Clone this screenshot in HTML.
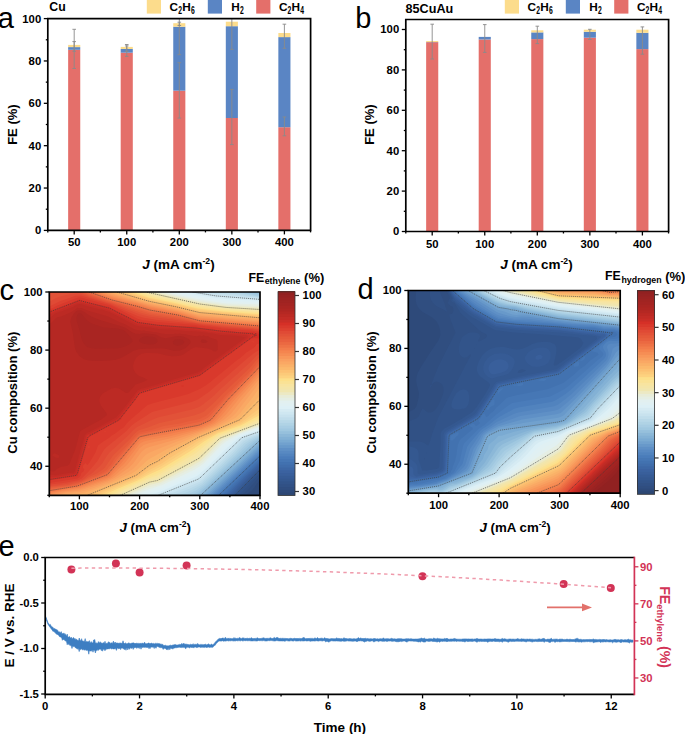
<!DOCTYPE html>
<html><head><meta charset="utf-8"><style>
html,body{margin:0;padding:0;background:#fff;overflow:hidden;}
svg{display:block;}

</style></head><body>
<svg width="685" height="734" viewBox="0 0 685 734" font-family='"Liberation Sans", sans-serif' font-weight="bold">
<rect width="685" height="734" fill="#fff"/>
<rect x="68.15" y="49.8" width="12.1" height="180.6" fill="#e46f6a"/>
<rect x="68.15" y="47.1" width="12.1" height="2.7" fill="#5a85c4"/>
<rect x="68.15" y="44.9" width="12.1" height="2.2" fill="#fcdc8c"/>
<line x1="74.2" y1="29.3" x2="74.2" y2="68.5" stroke="#8a8a8a" stroke-width="0.9"/>
<line x1="72.4" y1="29.3" x2="76" y2="29.3" stroke="#8a8a8a" stroke-width="0.9"/>
<line x1="72.4" y1="68.5" x2="76" y2="68.5" stroke="#8a8a8a" stroke-width="0.9"/>
<line x1="74.2" y1="41.6" x2="74.2" y2="51.3" stroke="#8a8a8a" stroke-width="0.9"/>
<line x1="72.4" y1="41.6" x2="76" y2="41.6" stroke="#8a8a8a" stroke-width="0.9"/>
<line x1="72.4" y1="51.3" x2="76" y2="51.3" stroke="#8a8a8a" stroke-width="0.9"/>
<rect x="120.7" y="52.7" width="12.1" height="177.7" fill="#e46f6a"/>
<rect x="120.7" y="49" width="12.1" height="3.7" fill="#5a85c4"/>
<rect x="120.7" y="46.9" width="12.1" height="2.1" fill="#fcdc8c"/>
<line x1="126.75" y1="44.5" x2="126.75" y2="56.4" stroke="#8a8a8a" stroke-width="0.9"/>
<line x1="124.95" y1="44.5" x2="128.55" y2="44.5" stroke="#8a8a8a" stroke-width="0.9"/>
<line x1="124.95" y1="56.4" x2="128.55" y2="56.4" stroke="#8a8a8a" stroke-width="0.9"/>
<line x1="126.75" y1="45.9" x2="126.75" y2="51.3" stroke="#8a8a8a" stroke-width="0.9"/>
<line x1="124.95" y1="45.9" x2="128.55" y2="45.9" stroke="#8a8a8a" stroke-width="0.9"/>
<line x1="124.95" y1="51.3" x2="128.55" y2="51.3" stroke="#8a8a8a" stroke-width="0.9"/>
<rect x="173.25" y="90.7" width="12.1" height="139.7" fill="#e46f6a"/>
<rect x="173.25" y="26.7" width="12.1" height="64" fill="#5a85c4"/>
<rect x="173.25" y="23.2" width="12.1" height="3.5" fill="#fcdc8c"/>
<line x1="179.3" y1="18.6" x2="179.3" y2="54.7" stroke="#8a8a8a" stroke-width="0.9"/>
<line x1="177.5" y1="54.7" x2="181.1" y2="54.7" stroke="#8a8a8a" stroke-width="0.9"/>
<line x1="179.3" y1="62.7" x2="179.3" y2="118.1" stroke="#8a8a8a" stroke-width="0.9"/>
<line x1="177.5" y1="62.7" x2="181.1" y2="62.7" stroke="#8a8a8a" stroke-width="0.9"/>
<line x1="177.5" y1="118.1" x2="181.1" y2="118.1" stroke="#8a8a8a" stroke-width="0.9"/>
<line x1="179.3" y1="22.2" x2="179.3" y2="25.5" stroke="#8a8a8a" stroke-width="0.9"/>
<line x1="177.5" y1="22.2" x2="181.1" y2="22.2" stroke="#8a8a8a" stroke-width="0.9"/>
<line x1="177.5" y1="25.5" x2="181.1" y2="25.5" stroke="#8a8a8a" stroke-width="0.9"/>
<rect x="225.8" y="118" width="12.1" height="112.4" fill="#e46f6a"/>
<rect x="225.8" y="26.2" width="12.1" height="91.8" fill="#5a85c4"/>
<rect x="225.8" y="21.7" width="12.1" height="4.5" fill="#fcdc8c"/>
<line x1="231.85" y1="18.6" x2="231.85" y2="49.3" stroke="#8a8a8a" stroke-width="0.9"/>
<line x1="230.05" y1="49.3" x2="233.65" y2="49.3" stroke="#8a8a8a" stroke-width="0.9"/>
<line x1="231.85" y1="89.4" x2="231.85" y2="144.6" stroke="#8a8a8a" stroke-width="0.9"/>
<line x1="230.05" y1="89.4" x2="233.65" y2="89.4" stroke="#8a8a8a" stroke-width="0.9"/>
<line x1="230.05" y1="144.6" x2="233.65" y2="144.6" stroke="#8a8a8a" stroke-width="0.9"/>
<rect x="278.35" y="127.2" width="12.1" height="103.2" fill="#e46f6a"/>
<rect x="278.35" y="37.1" width="12.1" height="90.1" fill="#5a85c4"/>
<rect x="278.35" y="33" width="12.1" height="4.1" fill="#fcdc8c"/>
<line x1="284.4" y1="24.2" x2="284.4" y2="48.3" stroke="#8a8a8a" stroke-width="0.9"/>
<line x1="282.6" y1="24.2" x2="286.2" y2="24.2" stroke="#8a8a8a" stroke-width="0.9"/>
<line x1="282.6" y1="48.3" x2="286.2" y2="48.3" stroke="#8a8a8a" stroke-width="0.9"/>
<line x1="284.4" y1="117" x2="284.4" y2="135.8" stroke="#8a8a8a" stroke-width="0.9"/>
<line x1="282.6" y1="117" x2="286.2" y2="117" stroke="#8a8a8a" stroke-width="0.9"/>
<line x1="282.6" y1="135.8" x2="286.2" y2="135.8" stroke="#8a8a8a" stroke-width="0.9"/>
<path d="M47.8 18.6H310.6V230.4H47.8Z" fill="none" stroke="#000" stroke-width="1.7"/>
<line x1="43.8" y1="230.4" x2="47.8" y2="230.4" stroke="#000" stroke-width="1.3"/>
<text x="41.2" y="234.3" font-size="11.3" text-anchor="end">0</text>
<line x1="45.8" y1="209.22" x2="47.8" y2="209.22" stroke="#000" stroke-width="1.3"/>
<line x1="43.8" y1="188.04" x2="47.8" y2="188.04" stroke="#000" stroke-width="1.3"/>
<text x="41.2" y="191.94" font-size="11.3" text-anchor="end">20</text>
<line x1="45.8" y1="166.86" x2="47.8" y2="166.86" stroke="#000" stroke-width="1.3"/>
<line x1="43.8" y1="145.68" x2="47.8" y2="145.68" stroke="#000" stroke-width="1.3"/>
<text x="41.2" y="149.58" font-size="11.3" text-anchor="end">40</text>
<line x1="45.8" y1="124.5" x2="47.8" y2="124.5" stroke="#000" stroke-width="1.3"/>
<line x1="43.8" y1="103.32" x2="47.8" y2="103.32" stroke="#000" stroke-width="1.3"/>
<text x="41.2" y="107.22" font-size="11.3" text-anchor="end">60</text>
<line x1="45.8" y1="82.14" x2="47.8" y2="82.14" stroke="#000" stroke-width="1.3"/>
<line x1="43.8" y1="60.96" x2="47.8" y2="60.96" stroke="#000" stroke-width="1.3"/>
<text x="41.2" y="64.86" font-size="11.3" text-anchor="end">80</text>
<line x1="45.8" y1="39.78" x2="47.8" y2="39.78" stroke="#000" stroke-width="1.3"/>
<line x1="43.8" y1="18.6" x2="47.8" y2="18.6" stroke="#000" stroke-width="1.3"/>
<text x="41.2" y="22.5" font-size="11.3" text-anchor="end">100</text>
<line x1="47.8" y1="230.4" x2="47.8" y2="232.4" stroke="#000" stroke-width="1.3"/>
<line x1="100.35" y1="230.4" x2="100.35" y2="232.4" stroke="#000" stroke-width="1.3"/>
<line x1="152.9" y1="230.4" x2="152.9" y2="232.4" stroke="#000" stroke-width="1.3"/>
<line x1="205.45" y1="230.4" x2="205.45" y2="232.4" stroke="#000" stroke-width="1.3"/>
<line x1="258" y1="230.4" x2="258" y2="232.4" stroke="#000" stroke-width="1.3"/>
<line x1="310.55" y1="230.4" x2="310.55" y2="232.4" stroke="#000" stroke-width="1.3"/>
<line x1="74.2" y1="230.4" x2="74.2" y2="234.4" stroke="#000" stroke-width="1.3"/>
<text x="74.2" y="246.4" font-size="11.3" text-anchor="middle">50</text>
<line x1="126.75" y1="230.4" x2="126.75" y2="234.4" stroke="#000" stroke-width="1.3"/>
<text x="126.75" y="246.4" font-size="11.3" text-anchor="middle">100</text>
<line x1="179.3" y1="230.4" x2="179.3" y2="234.4" stroke="#000" stroke-width="1.3"/>
<text x="179.3" y="246.4" font-size="11.3" text-anchor="middle">200</text>
<line x1="231.85" y1="230.4" x2="231.85" y2="234.4" stroke="#000" stroke-width="1.3"/>
<text x="231.85" y="246.4" font-size="11.3" text-anchor="middle">300</text>
<line x1="284.4" y1="230.4" x2="284.4" y2="234.4" stroke="#000" stroke-width="1.3"/>
<text x="284.4" y="246.4" font-size="11.3" text-anchor="middle">400</text>
<text x="16.8" y="124.6" font-size="13" text-anchor="middle" transform="rotate(-90 16.8 124.6)">FE (%)</text>
<text x="142.2" y="269.2" font-size="13.5"><tspan font-style="italic">J</tspan> (mA cm<tspan font-size="8.64" dy="-4.86">-2</tspan><tspan dy="4.86">)</tspan></text>
<text x="49.3" y="10.8" font-size="12.3">Cu</text>
<text x="-2.2" y="28.2" font-size="29" font-weight="normal">a</text>
<rect x="146.8" y="-2" width="14.2" height="15.6" fill="#fcdc8c"/>
<rect x="207.8" y="-2" width="14.2" height="15.6" fill="#5a85c4"/>
<rect x="256.2" y="-2" width="14.2" height="15.6" fill="#e46f6a"/>
<text x="169.6" y="10.9" font-size="11.8">C</text>
<text transform="translate(178.32 14.2) scale(0.68 1)" font-size="10">2</text>
<text x="182.2" y="10.9" font-size="11.8">H</text>
<text transform="translate(190.92 14.2) scale(0.68 1)" font-size="10">6</text>
<text x="231.2" y="10.9" font-size="11.8">H</text>
<text transform="translate(239.92 14.2) scale(0.68 1)" font-size="10">2</text>
<text x="278.9" y="10.9" font-size="11.8">C</text>
<text transform="translate(287.62 14.2) scale(0.68 1)" font-size="10">2</text>
<text x="291.5" y="10.9" font-size="11.8">H</text>
<text transform="translate(300.22 14.2) scale(0.68 1)" font-size="10">4</text>
<rect x="426.15" y="42.2" width="12.1" height="189.3" fill="#e46f6a"/>
<rect x="426.15" y="42" width="12.1" height="0.2" fill="#5a85c4"/>
<rect x="426.15" y="41" width="12.1" height="1" fill="#fcdc8c"/>
<line x1="432.2" y1="24.2" x2="432.2" y2="59" stroke="#8a8a8a" stroke-width="0.9"/>
<line x1="430.4" y1="24.2" x2="434" y2="24.2" stroke="#8a8a8a" stroke-width="0.9"/>
<line x1="430.4" y1="59" x2="434" y2="59" stroke="#8a8a8a" stroke-width="0.9"/>
<rect x="478.7" y="39.5" width="12.1" height="192" fill="#e46f6a"/>
<rect x="478.7" y="36.9" width="12.1" height="2.6" fill="#5a85c4"/>
<line x1="484.75" y1="24.6" x2="484.75" y2="52.4" stroke="#8a8a8a" stroke-width="0.9"/>
<line x1="482.95" y1="24.6" x2="486.55" y2="24.6" stroke="#8a8a8a" stroke-width="0.9"/>
<line x1="482.95" y1="52.4" x2="486.55" y2="52.4" stroke="#8a8a8a" stroke-width="0.9"/>
<rect x="531.25" y="39.1" width="12.1" height="192.4" fill="#e46f6a"/>
<rect x="531.25" y="32.4" width="12.1" height="6.7" fill="#5a85c4"/>
<rect x="531.25" y="30.3" width="12.1" height="2.1" fill="#fcdc8c"/>
<line x1="537.3" y1="26.2" x2="537.3" y2="43.6" stroke="#8a8a8a" stroke-width="0.9"/>
<line x1="535.5" y1="26.2" x2="539.1" y2="26.2" stroke="#8a8a8a" stroke-width="0.9"/>
<line x1="535.5" y1="43.6" x2="539.1" y2="43.6" stroke="#8a8a8a" stroke-width="0.9"/>
<rect x="583.8" y="37.7" width="12.1" height="193.8" fill="#e46f6a"/>
<rect x="583.8" y="31.8" width="12.1" height="5.9" fill="#5a85c4"/>
<rect x="583.8" y="29.7" width="12.1" height="2.1" fill="#fcdc8c"/>
<line x1="589.85" y1="29.3" x2="589.85" y2="39.5" stroke="#8a8a8a" stroke-width="0.9"/>
<line x1="588.05" y1="29.3" x2="591.65" y2="29.3" stroke="#8a8a8a" stroke-width="0.9"/>
<line x1="588.05" y1="39.5" x2="591.65" y2="39.5" stroke="#8a8a8a" stroke-width="0.9"/>
<rect x="636.35" y="49.1" width="12.1" height="182.4" fill="#e46f6a"/>
<rect x="636.35" y="32.8" width="12.1" height="16.3" fill="#5a85c4"/>
<rect x="636.35" y="29.7" width="12.1" height="3.1" fill="#fcdc8c"/>
<line x1="642.4" y1="26.9" x2="642.4" y2="54.2" stroke="#8a8a8a" stroke-width="0.9"/>
<line x1="640.6" y1="26.9" x2="644.2" y2="26.9" stroke="#8a8a8a" stroke-width="0.9"/>
<line x1="640.6" y1="54.2" x2="644.2" y2="54.2" stroke="#8a8a8a" stroke-width="0.9"/>
<path d="M405.8 19.5H668.6V231.5H405.8Z" fill="none" stroke="#000" stroke-width="1.7"/>
<line x1="401.8" y1="231.5" x2="405.8" y2="231.5" stroke="#000" stroke-width="1.3"/>
<text x="399.2" y="235.4" font-size="11.3" text-anchor="end">0</text>
<line x1="403.8" y1="211.3" x2="405.8" y2="211.3" stroke="#000" stroke-width="1.3"/>
<line x1="401.8" y1="191.1" x2="405.8" y2="191.1" stroke="#000" stroke-width="1.3"/>
<text x="399.2" y="195" font-size="11.3" text-anchor="end">20</text>
<line x1="403.8" y1="170.9" x2="405.8" y2="170.9" stroke="#000" stroke-width="1.3"/>
<line x1="401.8" y1="150.7" x2="405.8" y2="150.7" stroke="#000" stroke-width="1.3"/>
<text x="399.2" y="154.6" font-size="11.3" text-anchor="end">40</text>
<line x1="403.8" y1="130.5" x2="405.8" y2="130.5" stroke="#000" stroke-width="1.3"/>
<line x1="401.8" y1="110.3" x2="405.8" y2="110.3" stroke="#000" stroke-width="1.3"/>
<text x="399.2" y="114.2" font-size="11.3" text-anchor="end">60</text>
<line x1="403.8" y1="90.1" x2="405.8" y2="90.1" stroke="#000" stroke-width="1.3"/>
<line x1="401.8" y1="69.9" x2="405.8" y2="69.9" stroke="#000" stroke-width="1.3"/>
<text x="399.2" y="73.8" font-size="11.3" text-anchor="end">80</text>
<line x1="403.8" y1="49.7" x2="405.8" y2="49.7" stroke="#000" stroke-width="1.3"/>
<line x1="401.8" y1="29.5" x2="405.8" y2="29.5" stroke="#000" stroke-width="1.3"/>
<text x="399.2" y="33.4" font-size="11.3" text-anchor="end">100</text>
<line x1="405.8" y1="231.5" x2="405.8" y2="233.5" stroke="#000" stroke-width="1.3"/>
<line x1="458.35" y1="231.5" x2="458.35" y2="233.5" stroke="#000" stroke-width="1.3"/>
<line x1="510.9" y1="231.5" x2="510.9" y2="233.5" stroke="#000" stroke-width="1.3"/>
<line x1="563.45" y1="231.5" x2="563.45" y2="233.5" stroke="#000" stroke-width="1.3"/>
<line x1="616" y1="231.5" x2="616" y2="233.5" stroke="#000" stroke-width="1.3"/>
<line x1="668.55" y1="231.5" x2="668.55" y2="233.5" stroke="#000" stroke-width="1.3"/>
<line x1="432.2" y1="231.5" x2="432.2" y2="235.5" stroke="#000" stroke-width="1.3"/>
<text x="432.2" y="247.5" font-size="11.3" text-anchor="middle">50</text>
<line x1="484.75" y1="231.5" x2="484.75" y2="235.5" stroke="#000" stroke-width="1.3"/>
<text x="484.75" y="247.5" font-size="11.3" text-anchor="middle">100</text>
<line x1="537.3" y1="231.5" x2="537.3" y2="235.5" stroke="#000" stroke-width="1.3"/>
<text x="537.3" y="247.5" font-size="11.3" text-anchor="middle">200</text>
<line x1="589.85" y1="231.5" x2="589.85" y2="235.5" stroke="#000" stroke-width="1.3"/>
<text x="589.85" y="247.5" font-size="11.3" text-anchor="middle">300</text>
<line x1="642.4" y1="231.5" x2="642.4" y2="235.5" stroke="#000" stroke-width="1.3"/>
<text x="642.4" y="247.5" font-size="11.3" text-anchor="middle">400</text>
<text x="373.9" y="124.6" font-size="13" text-anchor="middle" transform="rotate(-90 373.9 124.6)">FE (%)</text>
<text x="500.2" y="269.2" font-size="13.5"><tspan font-style="italic">J</tspan> (mA cm<tspan font-size="8.64" dy="-4.86">-2</tspan><tspan dy="4.86">)</tspan></text>
<text x="405.6" y="12.7" font-size="12.6">85CuAu</text>
<text x="355.2" y="28.2" font-size="29" font-weight="normal">b</text>
<rect x="504.8" y="-2" width="14.2" height="15.6" fill="#fcdc8c"/>
<rect x="565.8" y="-2" width="14.2" height="15.6" fill="#5a85c4"/>
<rect x="614.2" y="-2" width="14.2" height="15.6" fill="#e46f6a"/>
<text x="527.6" y="10.9" font-size="11.8">C</text>
<text transform="translate(536.32 14.2) scale(0.68 1)" font-size="10">2</text>
<text x="540.2" y="10.9" font-size="11.8">H</text>
<text transform="translate(548.92 14.2) scale(0.68 1)" font-size="10">6</text>
<text x="589.2" y="10.9" font-size="11.8">H</text>
<text transform="translate(597.92 14.2) scale(0.68 1)" font-size="10">2</text>
<text x="636.9" y="10.9" font-size="11.8">C</text>
<text transform="translate(645.62 14.2) scale(0.68 1)" font-size="10">2</text>
<text x="649.5" y="10.9" font-size="11.8">H</text>
<text transform="translate(658.22 14.2) scale(0.68 1)" font-size="10">4</text>
<path d="M45.6 616.5 46.2 617.7 46.8 619.5 47.4 621.0 48.0 622.9 48.6 623.4 49.2 624.3 49.8 624.9 50.4 624.4 51.0 625.7 51.6 626.4 52.2 627.0 52.8 627.2 53.4 627.9 54.0 628.7 54.6 628.6 55.2 629.3 55.8 628.9 56.4 630.1 57.0 629.6 57.6 630.2 58.2 631.6 58.8 632.0 59.4 631.7 60.0 632.5 60.6 633.0 61.2 631.6 61.8 633.5 62.4 633.7 63.0 633.6 63.6 632.9 64.2 635.1 64.8 633.4 65.4 634.2 66.0 635.3 66.6 635.9 67.2 634.1 67.8 636.6 68.4 637.3 69.0 636.8 69.6 636.6 70.2 638.0 70.8 637.9 71.4 637.2 72.0 638.5 72.6 639.0 73.2 637.6 73.8 637.8 74.4 639.3 75.0 638.4 75.6 639.9 76.2 638.9 76.8 639.9 77.4 639.9 78.0 640.6 78.6 640.7 79.2 638.0 79.8 639.4 80.4 640.5 81.0 641.0 81.6 638.7 82.2 641.0 82.8 641.0 83.4 640.9 84.0 642.0 84.6 640.8 85.2 638.6 85.8 641.9 86.4 641.4 87.0 641.4 87.6 641.8 88.2 641.5 88.8 641.9 89.4 640.6 90.0 643.0 90.6 642.8 91.2 641.6 91.8 642.5 92.4 642.9 93.0 642.9 93.6 640.0 94.2 639.9 94.8 639.5 95.4 643.3 96.0 642.7 96.6 643.2 97.2 643.3 97.8 643.3 98.4 641.6 99.0 642.8 99.6 643.1 100.2 641.7 100.8 643.1 101.4 642.9 102.0 643.2 102.6 643.3 103.2 642.5 103.8 643.1 104.4 643.2 105.0 641.3 105.6 643.5 106.2 643.5 106.8 643.3 107.4 643.5 108.0 642.5 108.6 641.7 109.2 643.1 109.8 642.3 110.4 643.7 111.0 643.0 111.6 642.9 112.2 642.6 112.8 643.7 113.4 641.1 114.0 643.2 114.6 643.1 115.2 642.0 115.8 643.6 116.4 643.0 117.0 642.8 117.6 643.0 118.2 643.6 118.8 642.9 119.4 643.2 120.0 643.0 120.6 642.9 121.2 643.6 121.8 643.0 122.4 643.2 123.0 640.8 123.6 642.8 124.2 643.5 124.8 643.5 125.4 642.8 126.0 643.4 126.6 643.7 127.2 643.5 127.8 643.7 128.4 642.8 129.0 643.3 129.6 643.3 130.2 643.6 130.8 643.5 131.4 643.3 132.0 643.1 132.6 643.0 133.2 643.0 133.8 642.8 134.4 643.4 135.0 643.1 135.6 643.6 136.2 643.3 136.8 643.3 137.4 643.4 138.0 643.2 138.6 643.4 139.2 643.7 139.8 643.3 140.4 643.5 141.0 642.9 141.6 643.7 142.2 643.3 142.8 643.1 143.4 643.7 144.0 643.0 144.6 642.2 145.2 643.6 145.8 643.7 146.4 643.7 147.0 643.5 147.6 643.6 148.2 643.1 148.8 643.1 149.4 643.4 150.0 643.3 150.6 643.6 151.2 643.2 151.8 643.1 152.4 643.7 153.0 643.5 153.6 643.4 154.2 643.7 154.8 643.8 155.4 643.3 156.0 643.7 156.6 643.4 157.2 643.7 157.8 643.2 158.4 643.6 159.0 643.8 159.6 643.7 160.2 643.7 160.8 644.3 161.4 644.2 162.0 644.4 162.6 644.3 163.2 645.0 163.8 645.5 164.4 645.5 165.0 645.2 165.6 645.3 166.2 645.7 166.8 645.8 167.4 645.9 168.0 645.4 168.6 645.9 169.2 645.7 169.8 645.3 170.4 645.2 171.0 645.2 171.6 645.5 172.2 645.3 172.8 645.0 173.4 645.1 174.0 644.6 174.6 644.7 175.2 644.7 175.8 644.6 176.4 645.0 177.0 644.9 177.6 645.0 178.2 644.7 178.8 644.8 179.4 644.4 180.0 644.5 180.6 644.6 181.2 644.2 181.8 643.4 182.4 644.5 183.0 643.6 183.6 643.5 184.2 644.5 184.8 643.6 185.4 644.3 186.0 644.2 186.6 644.2 187.2 644.3 187.8 644.5 188.4 644.6 189.0 644.7 189.6 644.8 190.2 644.3 190.8 644.4 191.4 644.5 192.0 644.8 192.6 644.3 193.2 643.7 193.8 644.7 194.4 644.4 195.0 644.5 195.6 644.3 196.2 644.4 196.8 644.5 197.4 643.4 198.0 644.4 198.6 644.3 199.2 644.7 199.8 644.8 200.4 644.4 201.0 644.8 201.6 644.4 202.2 644.8 202.8 644.4 203.4 644.7 204.0 644.5 204.6 644.5 205.2 644.0 205.8 644.6 206.4 644.9 207.0 644.3 207.6 644.8 208.2 643.8 208.8 644.2 209.4 644.5 210.0 645.0 210.6 644.7 211.2 644.2 211.8 644.1 212.4 645.0 213.0 644.9 213.6 643.9 214.2 643.6 214.8 643.0 215.4 641.9 216.0 641.4 216.6 640.7 217.2 640.2 217.8 639.8 218.4 639.0 219.0 638.5 219.6 638.4 220.2 638.5 220.8 638.6 221.4 638.6 222.0 638.1 222.6 638.1 223.2 638.0 223.8 638.5 224.4 638.8 225.0 637.6 225.6 637.5 226.2 638.7 226.8 638.4 227.4 638.7 228.0 637.9 228.6 638.6 229.2 638.2 229.8 638.7 230.4 638.5 231.0 638.3 231.6 638.7 232.2 638.7 232.8 638.6 233.4 638.5 234.0 637.5 234.6 638.6 235.2 638.3 235.8 638.2 236.4 638.5 237.0 638.4 237.6 638.3 238.2 638.4 238.8 638.3 239.4 637.4 240.0 638.1 240.6 638.2 241.2 638.4 241.8 638.4 242.4 637.9 243.0 638.1 243.6 637.9 244.2 638.4 244.8 638.2 245.4 638.5 246.0 638.1 246.6 638.4 247.2 638.2 247.8 638.3 248.4 638.5 249.0 638.3 249.6 638.3 250.2 638.5 251.4 637.7 252.6 638.5 253.8 638.6 255.0 638.4 256.2 638.4 257.4 637.8 258.6 638.5 259.8 638.6 261.0 638.5 262.2 638.2 263.4 637.8 264.6 638.2 265.8 638.5 267.0 638.3 268.2 638.4 269.4 638.2 270.6 637.8 271.8 638.5 273.0 638.5 274.2 637.4 275.4 638.2 276.6 637.6 277.8 637.6 279.0 638.6 280.2 638.3 281.4 638.4 282.6 638.3 283.8 638.4 285.0 638.4 286.2 638.5 287.4 638.5 288.6 638.7 289.8 638.4 291.0 638.3 292.2 638.7 293.4 638.6 294.6 638.3 295.8 638.6 297.0 638.5 298.2 638.6 299.4 638.4 300.6 638.5 301.8 638.6 303.0 637.7 304.2 637.5 305.4 638.8 306.6 638.5 307.8 638.5 309.0 638.5 310.2 638.4 311.4 638.4 312.6 638.4 313.8 638.7 315.0 637.8 316.2 638.8 317.4 637.6 318.6 638.5 319.8 638.6 321.0 638.2 322.2 638.2 323.4 638.8 324.6 637.7 325.8 638.5 327.0 638.5 328.2 638.7 329.4 638.9 330.6 638.7 331.8 638.6 333.0 638.7 334.2 638.7 335.4 638.7 336.6 637.9 337.8 638.5 339.0 638.4 340.2 638.7 341.4 638.6 342.6 638.9 343.8 637.7 345.0 638.5 346.2 638.5 347.4 638.8 348.6 638.8 349.8 638.6 351.0 638.8 352.2 638.9 353.4 638.7 354.6 638.7 355.8 638.9 357.0 638.8 358.2 637.6 359.4 638.6 360.6 638.0 361.8 638.5 363.0 638.6 364.2 638.6 365.4 638.3 366.6 638.7 367.8 638.5 369.0 638.9 370.2 638.7 371.4 638.8 372.6 638.9 373.8 638.6 375.0 638.6 376.2 639.0 377.4 638.7 378.6 639.0 379.8 638.8 381.0 638.7 382.2 639.0 383.4 637.8 384.6 639.0 385.8 638.8 387.0 638.7 388.2 638.7 389.4 638.9 390.6 638.7 391.8 638.3 393.0 639.0 394.2 638.8 395.4 638.9 396.6 639.0 397.8 638.7 399.0 638.7 400.2 638.7 401.4 638.7 402.6 639.0 403.8 639.1 405.0 639.0 406.2 638.7 407.4 638.8 408.6 638.7 409.8 638.9 411.0 638.7 412.2 639.0 413.4 639.1 414.6 639.1 415.8 639.0 417.0 639.1 418.2 638.9 419.4 638.7 420.6 638.4 421.8 638.1 423.0 638.9 424.2 638.0 425.4 638.9 426.6 639.0 427.8 639.1 429.0 638.8 430.2 638.8 431.4 638.8 432.6 639.0 433.8 638.0 435.0 638.7 436.2 638.9 437.4 638.3 438.6 638.7 439.8 638.8 441.0 638.9 442.2 638.9 443.4 639.0 444.6 638.4 445.8 638.8 447.0 638.3 448.2 639.1 449.4 639.2 450.6 639.0 451.8 639.0 453.0 639.1 454.2 638.4 455.4 638.8 456.6 639.1 457.8 639.2 459.0 639.2 460.2 639.2 461.4 639.2 462.6 639.0 463.8 638.9 465.0 638.9 466.2 638.9 467.4 639.0 468.6 638.9 469.8 639.1 471.0 639.1 472.2 638.9 473.4 639.2 474.6 639.0 475.8 638.9 477.0 638.4 478.2 639.0 479.4 639.1 480.6 639.0 481.8 639.1 483.0 639.3 484.2 639.0 485.4 639.1 486.6 639.1 487.8 638.9 489.0 638.9 490.2 638.9 491.4 639.1 492.6 639.0 493.8 639.0 495.0 638.6 496.2 639.0 497.4 639.1 498.6 639.1 499.8 639.3 501.0 639.3 502.2 638.4 503.4 639.0 504.6 638.7 505.8 639.1 507.0 639.4 508.2 639.2 509.4 639.0 510.6 639.0 511.8 639.2 513.0 639.1 514.2 639.2 515.4 639.2 516.6 639.1 517.8 638.6 519.0 639.2 520.2 639.3 521.4 638.8 522.6 639.0 523.8 639.0 525.0 639.3 526.2 639.2 527.4 639.1 528.6 639.3 529.8 639.0 531.0 639.3 532.2 639.2 533.4 639.4 534.6 639.4 535.8 639.3 537.0 639.4 538.2 639.0 539.4 638.8 540.6 639.2 541.8 639.1 543.0 638.5 544.2 638.4 545.4 639.4 546.6 639.5 547.8 639.1 549.0 639.3 550.2 639.1 551.4 638.3 552.6 639.5 553.8 639.2 555.0 639.2 556.2 639.1 557.4 639.2 558.6 639.5 559.8 639.1 561.0 639.2 562.2 639.1 563.4 639.5 564.6 639.4 565.8 639.5 567.0 639.1 568.2 639.5 569.4 639.3 570.6 639.3 571.8 639.6 573.0 639.6 574.2 639.4 575.4 638.9 576.6 638.4 577.8 638.4 579.0 639.5 580.2 639.3 581.4 639.4 582.6 639.7 583.8 639.6 585.0 639.7 586.2 639.6 587.4 639.6 588.6 639.6 589.8 639.4 591.0 639.6 592.2 639.5 593.4 639.0 594.6 639.6 595.8 639.4 597.0 639.7 598.2 639.7 599.4 639.4 600.6 639.6 601.8 639.7 603.0 639.5 604.2 639.5 605.4 639.8 606.6 639.6 607.8 639.9 609.0 639.9 610.2 639.7 611.4 639.9 612.6 639.9 613.8 639.7 615.0 639.3 616.2 639.7 617.4 639.8 618.6 639.7 619.8 640.0 621.0 639.6 622.2 639.7 623.4 640.0 624.6 639.7 625.8 639.7 627.0 640.0 628.2 639.1 629.4 639.8 630.6 639.8 631.8 640.1 633.0 640.0 633.0 642.1 631.8 642.3 630.6 641.9 629.4 643.0 628.2 642.2 627.0 642.1 625.8 642.1 624.6 642.0 623.4 642.1 622.2 641.8 621.0 642.7 619.8 642.1 618.6 641.8 617.4 642.1 616.2 642.3 615.0 642.0 613.8 641.8 612.6 642.8 611.4 641.8 610.2 641.9 609.0 642.0 607.8 641.7 606.6 641.8 605.4 641.9 604.2 641.7 603.0 642.1 601.8 641.8 600.6 642.4 599.4 641.7 598.2 641.8 597.0 641.9 595.8 642.0 594.6 642.2 593.4 642.8 592.2 641.6 591.0 641.8 589.8 641.8 588.6 641.5 587.4 641.7 586.2 641.6 585.0 641.8 583.8 641.8 582.6 641.8 581.4 642.2 580.2 641.7 579.0 642.1 577.8 641.7 576.6 641.8 575.4 642.0 574.2 641.4 573.0 641.5 571.8 641.5 570.6 641.6 569.4 641.7 568.2 641.6 567.0 641.5 565.8 641.4 564.6 641.4 563.4 641.5 562.2 641.6 561.0 641.7 559.8 641.9 558.6 641.6 557.4 641.7 556.2 641.5 555.0 642.4 553.8 641.3 552.6 641.6 551.4 641.5 550.2 642.4 549.0 642.3 547.8 641.5 546.6 641.4 545.4 641.3 544.2 642.3 543.0 641.3 541.8 641.4 540.6 641.4 539.4 641.4 538.2 641.6 537.0 641.6 535.8 641.3 534.6 641.5 533.4 641.6 532.2 642.0 531.0 641.6 529.8 641.3 528.6 641.3 527.4 641.3 526.2 641.9 525.0 641.6 523.8 641.3 522.6 641.3 521.4 641.5 520.2 641.2 519.0 641.3 517.8 641.2 516.6 641.2 515.4 641.3 514.2 641.5 513.0 641.3 511.8 641.6 510.6 641.3 509.4 641.6 508.2 642.2 507.0 641.6 505.8 641.3 504.6 641.3 503.4 641.3 502.2 642.3 501.0 641.2 499.8 641.8 498.6 641.6 497.4 641.4 496.2 641.4 495.0 641.5 493.8 641.1 492.6 641.4 491.4 641.4 490.2 641.3 489.0 641.4 487.8 642.3 486.6 641.5 485.4 641.4 484.2 641.5 483.0 641.3 481.8 641.5 480.6 641.3 479.4 641.6 478.2 641.3 477.0 642.3 475.8 641.5 474.6 641.1 473.4 641.2 472.2 641.5 471.0 641.3 469.8 641.3 468.6 641.5 467.4 641.5 466.2 641.1 465.0 642.1 463.8 641.4 462.6 641.5 461.4 641.2 460.2 641.2 459.0 641.2 457.8 641.1 456.6 641.5 455.4 641.1 454.2 641.3 453.0 641.1 451.8 641.3 450.6 641.3 449.4 641.3 448.2 641.2 447.0 641.7 445.8 641.3 444.6 641.3 443.4 641.2 442.2 641.4 441.0 641.1 439.8 642.2 438.6 641.4 437.4 641.9 436.2 641.8 435.0 641.4 433.8 641.4 432.6 641.4 431.4 641.1 430.2 641.2 429.0 641.4 427.8 641.2 426.6 641.0 425.4 641.9 424.2 642.1 423.0 641.9 421.8 641.1 420.6 642.1 419.4 641.7 418.2 641.9 417.0 641.4 415.8 641.3 414.6 641.3 413.4 641.2 412.2 641.0 411.0 641.1 409.8 640.9 408.6 641.1 407.4 641.8 406.2 641.9 405.0 641.0 403.8 641.0 402.6 641.3 401.4 641.6 400.2 641.2 399.0 641.7 397.8 641.7 396.6 641.7 395.4 641.4 394.2 641.0 393.0 641.3 391.8 641.3 390.6 641.0 389.4 641.1 388.2 641.1 387.0 641.5 385.8 641.0 384.6 641.3 383.4 641.3 382.2 641.3 381.0 640.9 379.8 640.9 378.6 641.6 377.4 641.0 376.2 640.9 375.0 641.2 373.8 642.1 372.6 640.8 371.4 640.9 370.2 641.3 369.0 641.3 367.8 640.8 366.6 641.2 365.4 641.5 364.2 642.1 363.0 641.0 361.8 641.0 360.6 640.8 359.4 640.9 358.2 641.0 357.0 641.7 355.8 641.1 354.6 641.1 353.4 641.2 352.2 641.2 351.0 641.1 349.8 641.1 348.6 641.1 347.4 640.8 346.2 641.1 345.0 641.2 343.8 641.2 342.6 640.9 341.4 641.2 340.2 641.2 339.0 641.1 337.8 641.1 336.6 640.9 335.4 641.1 334.2 641.0 333.0 641.0 331.8 640.7 330.6 641.1 329.4 641.8 328.2 642.0 327.0 641.0 325.8 641.9 324.6 640.8 323.4 640.7 322.2 641.1 321.0 640.7 319.8 640.7 318.6 641.1 317.4 640.9 316.2 640.7 315.0 641.1 313.8 640.9 312.6 641.0 311.4 641.1 310.2 641.3 309.0 640.7 307.8 640.9 306.6 641.0 305.4 640.7 304.2 640.9 303.0 641.0 301.8 640.8 300.6 641.1 299.4 640.8 298.2 640.9 297.0 641.0 295.8 641.0 294.6 640.6 293.4 641.1 292.2 640.9 291.0 640.6 289.8 641.0 288.6 641.0 287.4 640.8 286.2 640.6 285.0 641.3 283.8 640.9 282.6 641.0 281.4 640.9 280.2 640.9 279.0 640.9 277.8 640.7 276.6 640.6 275.4 640.9 274.2 641.0 273.0 640.8 271.8 640.6 270.6 640.6 269.4 640.7 268.2 640.6 267.0 640.9 265.8 641.0 264.6 640.8 263.4 640.6 262.2 640.8 261.0 640.6 259.8 640.7 258.6 640.5 257.4 640.9 256.2 641.0 255.0 640.8 253.8 640.8 252.6 640.9 251.4 640.9 250.2 640.8 249.6 640.7 249.0 640.6 248.4 640.7 247.8 640.7 247.2 640.8 246.6 640.6 246.0 640.7 245.4 640.7 244.8 640.7 244.2 640.5 243.6 640.8 243.0 640.8 242.4 640.9 241.8 640.5 241.2 640.6 240.6 640.9 240.0 640.6 239.4 640.7 238.8 640.8 238.2 640.6 237.6 640.8 237.0 640.9 236.4 640.6 235.8 641.1 235.2 640.7 234.6 640.9 234.0 640.8 233.4 641.0 232.8 640.8 232.2 640.8 231.6 640.7 231.0 640.6 230.4 640.9 229.8 640.8 229.2 640.8 228.6 641.0 228.0 640.8 227.4 640.7 226.8 641.0 226.2 640.7 225.6 641.1 225.0 641.1 224.4 641.0 223.8 641.0 223.2 641.3 222.6 640.7 222.0 641.0 221.4 641.1 220.8 641.1 220.2 641.1 219.6 640.9 219.0 641.2 218.4 641.3 217.8 642.1 217.2 642.6 216.6 643.3 216.0 643.5 215.4 645.1 214.8 645.3 214.2 646.0 213.6 646.3 213.0 647.3 212.4 647.2 211.8 647.1 211.2 647.4 210.6 647.2 210.0 647.3 209.4 647.4 208.8 647.0 208.2 647.2 207.6 647.3 207.0 647.2 206.4 647.8 205.8 647.2 205.2 647.0 204.6 647.5 204.0 647.0 203.4 647.4 202.8 647.1 202.2 647.5 201.6 647.3 201.0 647.3 200.4 647.5 199.8 647.1 199.2 647.1 198.6 647.1 198.0 647.1 197.4 647.5 196.8 647.5 196.2 647.5 195.6 647.1 195.0 647.0 194.4 647.0 193.8 648.1 193.2 647.1 192.6 647.5 192.0 647.4 191.4 647.4 190.8 647.2 190.2 647.1 189.6 648.2 189.0 647.2 188.4 647.3 187.8 647.5 187.2 647.1 186.6 647.3 186.0 648.6 185.4 648.6 184.8 647.6 184.2 647.3 183.6 647.6 183.0 647.1 182.4 647.5 181.8 647.2 181.2 647.7 180.6 647.4 180.0 647.2 179.4 647.2 178.8 647.2 178.2 647.4 177.6 647.5 177.0 647.8 176.4 647.7 175.8 647.6 175.2 647.9 174.6 648.0 174.0 647.9 173.4 648.3 172.8 649.2 172.2 648.5 171.6 648.5 171.0 648.2 170.4 648.3 169.8 649.8 169.2 648.5 168.6 648.6 168.0 650.1 167.4 648.7 166.8 649.8 166.2 649.3 165.6 648.7 165.0 648.3 164.4 648.3 163.8 648.4 163.2 649.4 162.6 648.0 162.0 647.8 161.4 647.7 160.8 646.8 160.2 648.0 159.6 647.5 159.0 646.7 158.4 646.9 157.8 646.5 157.2 646.4 156.6 646.7 156.0 648.3 155.4 647.2 154.8 646.8 154.2 648.5 153.6 647.2 153.0 646.7 152.4 647.2 151.8 646.9 151.2 647.2 150.6 647.0 150.0 648.7 149.4 647.2 148.8 648.5 148.2 647.1 147.6 647.1 147.0 648.0 146.4 646.9 145.8 647.1 145.2 647.6 144.6 647.3 144.0 647.5 143.4 647.1 142.8 647.7 142.2 647.0 141.6 647.6 141.0 649.2 140.4 647.3 139.8 647.6 139.2 648.5 138.6 647.6 138.0 647.9 137.4 647.3 136.8 648.4 136.2 647.4 135.6 647.4 135.0 647.5 134.4 648.0 133.8 647.4 133.2 649.4 132.6 647.4 132.0 648.3 131.4 648.3 130.8 647.7 130.2 648.3 129.6 649.3 129.0 647.9 128.4 648.3 127.8 649.9 127.2 647.9 126.6 648.1 126.0 650.3 125.4 648.2 124.8 649.8 124.2 648.7 123.6 648.8 123.0 648.7 122.4 647.9 121.8 648.1 121.2 648.1 120.6 649.6 120.0 647.9 119.4 648.6 118.8 648.9 118.2 648.2 117.6 648.0 117.0 648.7 116.4 650.4 115.8 648.9 115.2 648.0 114.6 649.0 114.0 648.9 113.4 648.9 112.8 649.0 112.2 648.2 111.6 649.1 111.0 648.7 110.4 648.2 109.8 648.5 109.2 648.9 108.6 648.7 108.0 649.0 107.4 648.9 106.8 648.7 106.2 649.5 105.6 649.4 105.0 650.7 104.4 649.7 103.8 649.3 103.2 649.2 102.6 651.2 102.0 648.8 101.4 650.7 100.8 649.2 100.2 649.1 99.6 649.1 99.0 649.4 98.4 650.3 97.8 650.4 97.2 649.2 96.6 650.6 96.0 650.6 95.4 653.0 94.8 650.8 94.2 650.2 93.6 650.1 93.0 652.2 92.4 650.2 91.8 650.4 91.2 651.3 90.6 650.9 90.0 650.9 89.4 650.4 88.8 654.2 88.2 651.0 87.6 650.3 87.0 650.1 86.4 650.5 85.8 649.5 85.2 650.3 84.6 649.8 84.0 650.2 83.4 648.7 82.8 650.2 82.2 649.3 81.6 649.1 81.0 648.8 80.4 649.7 79.8 649.2 79.2 651.6 78.6 649.4 78.0 648.0 77.4 649.2 76.8 648.7 76.2 647.9 75.6 647.9 75.0 647.3 74.4 646.6 73.8 646.6 73.2 646.5 72.6 646.0 72.0 648.5 71.4 646.3 70.8 645.1 70.2 645.7 69.6 645.2 69.0 643.6 68.4 644.5 67.8 643.0 67.2 644.8 66.6 641.7 66.0 641.3 65.4 641.0 64.8 640.2 64.2 639.7 63.6 639.5 63.0 639.4 62.4 640.3 61.8 638.2 61.2 637.4 60.6 636.9 60.0 637.0 59.4 636.5 58.8 635.6 58.2 635.0 57.6 634.4 57.0 634.4 56.4 634.1 55.8 633.4 55.2 632.7 54.6 632.0 54.0 631.7 53.4 631.2 52.8 631.2 52.2 629.9 51.6 629.2 51.0 628.7 50.4 627.7 49.8 627.1 49.2 626.0 48.6 625.1 48.0 624.6 47.4 622.8 46.8 621.3 46.2 619.2 45.6 617.7Z" fill="#3d7ec2" stroke="#3d7ec2" stroke-width="0.6" stroke-linejoin="round"/>
<circle cx="71.4" cy="569.6" r="4.0" fill="#d23356"/>
<circle cx="115.9" cy="563.6" r="4.0" fill="#d23356"/>
<circle cx="139.6" cy="572.5" r="4.0" fill="#d23356"/>
<circle cx="186.6" cy="565.5" r="4.0" fill="#d23356"/>
<circle cx="422.5" cy="576.3" r="4.0" fill="#d23356"/>
<circle cx="563.7" cy="583.9" r="4.0" fill="#d23356"/>
<circle cx="610.8" cy="587.9" r="4.0" fill="#d23356"/>
<path d="M71.4 568.2 80.5 568.1 89.7 568.1 98.8 568.1 108.0 568.1 117.1 568.1 126.3 568.1 135.4 568.1 144.6 568.2 153.7 568.2 162.9 568.3 172.0 568.4 181.1 568.5 190.3 568.6 199.4 568.7 208.6 568.9 217.7 569.0 226.9 569.2 236.0 569.3 245.2 569.5 254.3 569.7 263.5 569.9 272.6 570.2 281.8 570.4 290.9 570.7 300.0 570.9 309.2 571.2 318.3 571.5 327.5 571.8 336.6 572.1 345.8 572.5 354.9 572.8 364.1 573.2 373.2 573.5 382.4 573.9 391.5 574.3 400.6 574.7 409.8 575.2 418.9 575.6 428.1 576.1 437.2 576.5 446.4 577.0 455.5 577.5 464.7 578.0 473.8 578.5 483.0 579.0 492.1 579.6 501.3 580.1 510.4 580.7 519.5 581.3 528.7 581.9 537.8 582.5 547.0 583.1 556.1 583.7 565.3 584.4 574.4 585.1 583.6 585.7 592.7 586.4 601.9 587.1 611.0 587.8" fill="none" stroke="#ef9aab" stroke-width="1.5" stroke-dasharray="3.4 3.4"/>
<line x1="547" y1="607.4" x2="584" y2="607.4" stroke="#e2716b" stroke-width="1.6"/>
<path d="M582 603.6L592 607.4L582 611.2Z" fill="#e2716b"/>
<path d="M634.4 557.5H45.2V694.4H634.4" fill="none" stroke="#000" stroke-width="1.7"/>
<line x1="634.4" y1="556.7" x2="634.4" y2="695.2" stroke="#d23356" stroke-width="1.7"/>
<line x1="41.2" y1="557.5" x2="45.2" y2="557.5" stroke="#000" stroke-width="1.3"/>
<text x="38.9" y="561.4" font-size="11.3" text-anchor="end">0.0</text>
<line x1="43.2" y1="580.25" x2="45.2" y2="580.25" stroke="#000" stroke-width="1.3"/>
<line x1="41.2" y1="603" x2="45.2" y2="603" stroke="#000" stroke-width="1.3"/>
<text x="38.9" y="606.9" font-size="11.3" text-anchor="end">-0.5</text>
<line x1="43.2" y1="625.75" x2="45.2" y2="625.75" stroke="#000" stroke-width="1.3"/>
<line x1="41.2" y1="648.5" x2="45.2" y2="648.5" stroke="#000" stroke-width="1.3"/>
<text x="38.9" y="652.4" font-size="11.3" text-anchor="end">-1.0</text>
<line x1="43.2" y1="671.25" x2="45.2" y2="671.25" stroke="#000" stroke-width="1.3"/>
<line x1="41.2" y1="694" x2="45.2" y2="694" stroke="#000" stroke-width="1.3"/>
<text x="38.9" y="697.9" font-size="11.3" text-anchor="end">-1.5</text>
<line x1="45.2" y1="694.4" x2="45.2" y2="698.4" stroke="#000" stroke-width="1.3"/>
<text x="45.2" y="709.6" font-size="11.3" text-anchor="middle">0</text>
<line x1="92.37" y1="694.4" x2="92.37" y2="696.4" stroke="#000" stroke-width="1.3"/>
<line x1="139.54" y1="694.4" x2="139.54" y2="698.4" stroke="#000" stroke-width="1.3"/>
<text x="139.54" y="709.6" font-size="11.3" text-anchor="middle">2</text>
<line x1="186.71" y1="694.4" x2="186.71" y2="696.4" stroke="#000" stroke-width="1.3"/>
<line x1="233.88" y1="694.4" x2="233.88" y2="698.4" stroke="#000" stroke-width="1.3"/>
<text x="233.88" y="709.6" font-size="11.3" text-anchor="middle">4</text>
<line x1="281.05" y1="694.4" x2="281.05" y2="696.4" stroke="#000" stroke-width="1.3"/>
<line x1="328.22" y1="694.4" x2="328.22" y2="698.4" stroke="#000" stroke-width="1.3"/>
<text x="328.22" y="709.6" font-size="11.3" text-anchor="middle">6</text>
<line x1="375.39" y1="694.4" x2="375.39" y2="696.4" stroke="#000" stroke-width="1.3"/>
<line x1="422.56" y1="694.4" x2="422.56" y2="698.4" stroke="#000" stroke-width="1.3"/>
<text x="422.56" y="709.6" font-size="11.3" text-anchor="middle">8</text>
<line x1="469.73" y1="694.4" x2="469.73" y2="696.4" stroke="#000" stroke-width="1.3"/>
<line x1="516.9" y1="694.4" x2="516.9" y2="698.4" stroke="#000" stroke-width="1.3"/>
<text x="516.9" y="709.6" font-size="11.3" text-anchor="middle">10</text>
<line x1="564.07" y1="694.4" x2="564.07" y2="696.4" stroke="#000" stroke-width="1.3"/>
<line x1="611.24" y1="694.4" x2="611.24" y2="698.4" stroke="#000" stroke-width="1.3"/>
<text x="611.24" y="709.6" font-size="11.3" text-anchor="middle">12</text>
<line x1="634.4" y1="677.96" x2="638.4" y2="677.96" stroke="#d23356" stroke-width="1.3"/>
<text x="640" y="681.86" font-size="11.3" fill="#d23356">30</text>
<line x1="634.4" y1="659.43" x2="636.4" y2="659.43" stroke="#d23356" stroke-width="1.3"/>
<line x1="634.4" y1="640.9" x2="638.4" y2="640.9" stroke="#d23356" stroke-width="1.3"/>
<text x="640" y="644.8" font-size="11.3" fill="#d23356">50</text>
<line x1="634.4" y1="622.37" x2="636.4" y2="622.37" stroke="#d23356" stroke-width="1.3"/>
<line x1="634.4" y1="603.84" x2="638.4" y2="603.84" stroke="#d23356" stroke-width="1.3"/>
<text x="640" y="607.74" font-size="11.3" fill="#d23356">70</text>
<line x1="634.4" y1="585.31" x2="636.4" y2="585.31" stroke="#d23356" stroke-width="1.3"/>
<line x1="634.4" y1="566.78" x2="638.4" y2="566.78" stroke="#d23356" stroke-width="1.3"/>
<text x="640" y="570.68" font-size="11.3" fill="#d23356">90</text>
<text x="340" y="731.5" font-size="13.5" text-anchor="middle">Time (h)</text>
<text x="14.4" y="625.5" font-size="13.5" text-anchor="middle" transform="rotate(-90 14.4 625.5)">E / V vs. RHE</text>
<text transform="translate(660.2 586.2) rotate(90)" font-size="14.2" fill="#d23356">FE<tspan font-size="9.3" dy="3.6">ethylene</tspan><tspan dy="-3.6"> (%)</tspan></text>
<text x="-1.4" y="555.8" font-size="29" font-weight="normal">e</text>
<clipPath id="clc"><rect x="49.3" y="292" width="210.7" height="203.3"/></clipPath>
<g clip-path="url(#clc)">
<rect x="49.3" y="292" width="210.7" height="203.3" fill="#2d4773"/>
<rect x="49.3" y="292" width="210.7" height="203.3" fill="#2e4a7a"/>
<path d="M51.3 292.0L260.0 292.0L260.0 479.2L254.5 487.3L252.0 490.3L245.8 495.3L49.3 495.3L49.3 292.0L51.3 292.0Z" fill="#304e80" fill-rule="evenodd"/>
<path d="M51.3 292.0L260.0 292.0L260.0 475.6L254.0 483.0L248.2 489.3L241.6 495.3L49.3 495.3L49.3 292.0L51.3 292.0Z" fill="#315185" fill-rule="evenodd"/>
<path d="M51.3 292.0L260.0 292.0L260.0 473.0L248.0 486.1L238.6 495.3L49.3 495.3L49.3 292.0L51.3 292.0Z" fill="#32548a" fill-rule="evenodd"/>
<path d="M51.3 292.0L260.0 292.0L260.0 470.8L236.1 495.3L49.3 495.3L49.3 292.0L51.3 292.0Z" fill="#345890" fill-rule="evenodd"/>
<path d="M51.3 292.0L260.0 292.0L260.0 468.9L233.9 495.3L49.3 495.3L49.3 292.0L51.3 292.0Z" fill="#365b95" fill-rule="evenodd"/>
<path d="M51.3 292.0L260.0 292.0L260.0 467.2L245.5 481.3L232.0 495.3L49.3 495.3L49.3 292.0L51.3 292.0Z" fill="#395f9b" fill-rule="evenodd"/>
<path d="M51.3 292.0L260.0 292.0L260.0 465.5L245.5 479.4L230.1 495.3L49.3 495.3L49.3 292.0L51.3 292.0Z" fill="#3b62a0" fill-rule="evenodd"/>
<path d="M51.3 292.0L260.0 292.0L260.0 463.8L243.7 479.4L228.1 495.3L49.3 495.3L49.3 292.0L51.3 292.0Z" fill="#3d67a5" fill-rule="evenodd"/>
<path d="M51.3 292.0L260.0 292.0L260.0 462.1L241.9 479.4L226.1 495.3L49.3 495.3L49.3 292.0L51.3 292.0Z" fill="#406dab" fill-rule="evenodd"/>
<path d="M51.3 292.0L260.0 292.0L260.0 460.4L242.1 477.4L224.1 495.3L49.3 495.3L49.3 292.0L51.3 292.0Z" fill="#4272b0" fill-rule="evenodd"/>
<path d="M51.3 292.0L260.0 292.0L260.0 458.6L221.9 495.3L49.3 495.3L49.3 292.0L51.3 292.0Z" fill="#4677b5" fill-rule="evenodd"/>
<path d="M51.3 292.0L260.0 292.0L260.0 456.8L219.8 495.3L49.3 495.3L49.3 292.0L51.3 292.0Z" fill="#4a7cba" fill-rule="evenodd"/>
<path d="M51.3 292.0L260.0 292.0L260.0 455.0L217.6 495.3L49.3 495.3L49.3 292.0L51.3 292.0Z" fill="#5183be" fill-rule="evenodd"/>
<path d="M51.3 292.0L260.0 292.0L260.0 453.2L215.6 495.3L49.3 495.3L49.3 292.0L51.3 292.0Z" fill="#5889c2" fill-rule="evenodd"/>
<path d="M51.3 292.0L260.0 292.0L260.0 451.4L213.5 495.3L49.3 495.3L49.3 292.0L51.3 292.0Z" fill="#5f90c6" fill-rule="evenodd"/>
<path d="M51.3 292.0L260.0 292.0L260.0 449.4L211.3 495.3L49.3 495.3L49.3 292.0L51.3 292.0Z" fill="#6899ca" fill-rule="evenodd"/>
<path d="M51.3 292.0L260.0 292.0L260.0 447.4L209.1 495.3L49.3 495.3L49.3 292.0L51.3 292.0Z" fill="#71a1ce" fill-rule="evenodd"/>
<path d="M51.3 292.0L260.0 292.0L260.0 445.3L206.8 495.3L49.3 495.3L49.3 292.0L51.3 292.0Z" fill="#7aaad2" fill-rule="evenodd"/>
<path d="M51.3 292.0L260.0 292.0L260.0 443.2L252.0 451.1L204.5 495.3L49.3 495.3L49.3 292.0L51.3 292.0Z" fill="#83b1d5" fill-rule="evenodd"/>
<path d="M51.3 292.0L260.0 292.0L260.0 441.2L202.0 495.3L49.3 495.3L49.3 292.0L51.3 292.0Z" fill="#8cb8d8" fill-rule="evenodd"/>
<path d="M51.3 292.0L252.6 292.0L256.0 292.3L260.0 292.0L260.0 439.5L199.3 495.3L49.3 495.3L49.3 292.0L51.3 292.0Z" fill="#96c0dc" fill-rule="evenodd"/>
<path d="M51.3 292.0L247.1 292.0L260.0 294.1L260.0 438.2L255.4 441.5L248.3 447.5L207.8 485.5L196.0 495.3L49.3 495.3L49.3 292.0L51.3 292.0Z" fill="#a0c8e0" fill-rule="evenodd"/>
<path d="M51.3 292.0L243.0 292.0L250.0 293.6L260.0 295.1L260.0 437.0L252.8 441.5L247.6 445.5L205.8 485.2L197.8 491.6L191.6 495.3L49.3 495.3L49.3 292.0L51.3 292.0Z" fill="#a8cde3" fill-rule="evenodd"/>
<path d="M51.3 292.0L238.5 292.0L248.0 294.1L260.0 296.2L260.0 435.9L253.2 439.5L246.0 444.3L235.0 455.4L203.8 484.9L195.8 490.5L186.0 495.3L49.3 495.3L49.3 292.0L51.3 292.0Z" fill="#b0d3e5" fill-rule="evenodd"/>
<path d="M51.3 292.0L231.7 292.0L248.0 295.0L260.0 296.9L260.0 434.8L250.2 439.5L243.9 443.4L233.9 454.1L205.4 481.3L201.8 484.4L191.8 490.1L179.3 495.3L49.3 495.3L49.3 292.0L51.3 292.0Z" fill="#b8d8e8" fill-rule="evenodd"/>
<path d="M51.3 292.0L217.0 292.0L229.9 293.2L260.0 297.6L260.0 433.8L246.8 439.5L243.4 441.5L232.0 453.4L201.8 482.4L197.8 484.8L189.8 488.5L172.4 495.3L49.3 495.3L49.3 292.0L51.3 292.0Z" fill="#c0ddeb" fill-rule="evenodd"/>
<path d="M51.3 292.0L206.3 292.0L215.9 293.5L229.9 294.7L260.0 298.3L260.0 432.8L247.9 437.5L241.9 440.4L231.9 451.0L212.6 469.4L202.7 479.4L199.8 481.7L185.8 487.8L166.2 495.3L49.3 495.3L49.3 292.0L51.3 292.0Z" fill="#c8e2ee" fill-rule="evenodd"/>
<path d="M51.3 292.0L196.9 292.0L215.9 295.1L260.0 299.0L260.0 431.9L241.9 438.5L199.8 479.7L160.7 495.3L49.3 495.3L49.3 292.0L51.3 292.0Z" fill="#cfe7f1" fill-rule="evenodd"/>
<path d="M51.3 292.0L189.1 292.0L215.9 296.6L260.0 299.8L260.0 430.9L241.1 437.5L205.8 471.0L197.8 478.1L155.4 495.3L49.3 495.3L49.3 292.0L51.3 292.0Z" fill="#d6ebf3" fill-rule="evenodd"/>
<path d="M51.3 292.0L182.9 292.0L197.8 295.1L215.9 298.0L229.9 299.2L260.0 300.8L260.0 430.0L243.3 435.5L239.2 437.5L227.5 447.5L207.8 466.7L197.8 475.4L193.9 477.4L161.7 490.9L149.3 495.3L49.3 495.3L49.3 292.0L51.3 292.0Z" fill="#ddf0f6" fill-rule="evenodd"/>
<path d="M51.3 292.0L176.7 292.0L197.8 296.5L215.9 299.4L229.9 300.7L260.0 301.8L260.0 429.1L241.9 435.0L237.4 437.5L226.9 445.5L205.8 466.2L199.8 471.2L195.8 474.0L161.7 488.9L143.7 495.3L49.3 495.3L49.3 292.0L51.3 292.0Z" fill="#e0f0f3" fill-rule="evenodd"/>
<path d="M51.3 292.0L170.6 292.0L198.4 298.0L215.9 300.8L227.9 302.0L260.0 303.1L260.0 428.1L239.9 434.9L229.1 441.5L223.9 445.5L205.8 463.8L199.8 468.7L195.8 471.4L161.7 487.1L148.7 491.3L138.9 495.3L49.3 495.3L49.3 292.0L51.3 292.0Z" fill="#e2f0f0" fill-rule="evenodd"/>
<path d="M51.3 292.0L164.7 292.0L199.8 299.6L215.2 302.0L227.9 303.4L260.0 304.5L260.0 427.1L239.9 433.9L226.0 441.5L221.9 444.8L203.8 463.2L199.8 466.3L193.8 469.9L161.7 485.2L147.6 489.7L134.4 495.3L49.3 495.3L49.3 292.0L51.3 292.0Z" fill="#e5eee4" fill-rule="evenodd"/>
<path d="M51.3 292.0L159.1 292.0L197.8 300.5L209.8 302.4L225.9 304.5L260.0 306.1L260.0 426.1L238.7 433.5L223.9 440.8L219.9 444.2L203.1 461.4L199.8 463.9L193.8 467.4L161.7 483.3L157.7 484.9L147.6 487.7L130.2 495.3L49.3 495.3L49.3 292.0L51.3 292.0Z" fill="#e8ecd8" fill-rule="evenodd"/>
<path d="M51.3 292.0L153.6 292.0L201.8 302.5L225.9 305.7L260.0 307.5L260.0 425.0L237.9 432.9L222.7 439.5L219.9 441.7L201.8 460.0L199.8 461.6L191.8 466.0L159.7 482.4L149.6 485.0L126.1 495.3L49.3 495.3L49.3 292.0L51.3 292.0Z" fill="#ece9c4" fill-rule="evenodd"/>
<path d="M51.3 292.0L148.8 292.0L199.8 303.4L225.9 306.8L260.0 308.9L260.0 423.8L221.9 438.2L219.9 439.4L199.6 459.4L159.7 480.5L157.7 481.4L149.6 483.1L122.2 495.3L49.3 495.3L49.3 292.0L51.3 292.0Z" fill="#f0e6b0" fill-rule="evenodd"/>
<path d="M51.3 292.0L145.2 292.0L149.6 293.4L199.8 304.6L225.9 307.9L260.0 310.1L260.0 422.5L219.9 437.2L197.8 457.8L157.7 479.5L149.6 481.2L118.5 495.3L49.3 495.3L49.3 292.0L51.3 292.0Z" fill="#f4e5a8" fill-rule="evenodd"/>
<path d="M51.3 292.0L141.8 292.0L149.6 294.5L199.8 305.6L225.9 308.8L260.0 311.2L260.0 421.1L239.9 429.1L219.9 436.0L215.2 439.5L197.8 454.7L193.5 457.4L157.7 477.3L149.6 479.6L115.0 495.3L49.3 495.3L49.3 292.0L51.3 292.0Z" fill="#f8e4a0" fill-rule="evenodd"/>
<path d="M51.3 292.0L138.4 292.0L149.6 295.6L197.8 306.4L225.9 309.7L260.0 312.3L260.0 419.4L241.2 427.5L218.4 435.5L210.2 441.5L195.4 453.4L161.7 473.1L157.2 475.4L147.6 478.8L111.4 495.3L49.3 495.3L49.3 292.0L51.3 292.0Z" fill="#fae295" fill-rule="evenodd"/>
<path d="M51.3 292.0L134.9 292.0L149.6 296.6L197.8 307.4L223.9 310.5L260.0 313.3L260.0 417.4L241.9 426.1L217.9 434.6L207.2 441.5L191.8 452.9L160.8 471.4L156.8 473.4L147.6 477.1L137.6 482.1L117.5 490.6L107.6 495.3L49.3 495.3L49.3 292.0L51.3 292.0Z" fill="#fde08a" fill-rule="evenodd"/>
<path d="M51.3 292.0L131.2 292.0L149.6 297.7L175.7 303.3L197.8 308.4L223.9 311.4L260.0 314.3L260.0 414.9L244.4 423.5L240.1 425.5L217.5 433.5L203.9 441.5L189.8 451.4L159.7 469.7L149.6 474.3L137.6 480.6L116.4 489.3L103.6 495.3L49.3 495.3L49.3 292.0L51.3 292.0Z" fill="#fdd27f" fill-rule="evenodd"/>
<path d="M51.3 292.0L127.4 292.0L149.6 298.8L175.7 304.3L197.8 309.5L223.9 312.3L260.0 315.3L260.0 411.9L241.5 423.5L217.9 432.2L203.7 439.5L189.8 448.6L161.7 466.1L149.6 472.2L139.6 478.0L112.3 489.3L99.4 495.3L49.3 495.3L49.3 292.0L51.3 292.0Z" fill="#fcca79" fill-rule="evenodd"/>
<path d="M51.3 292.0L123.4 292.0L149.6 299.8L175.7 305.2L199.8 310.9L260.0 316.3L260.0 407.9L242.1 421.6L239.9 422.8L217.9 431.0L200.0 439.5L171.7 456.7L161.7 463.4L149.6 469.8L137.6 477.4L112.9 487.3L94.8 495.3L49.3 495.3L49.3 292.0L51.3 292.0Z" fill="#fcc172" fill-rule="evenodd"/>
<path d="M51.3 292.0L119.2 292.0L149.6 300.9L175.7 306.2L199.8 312.0L260.0 317.3L260.0 402.7L239.9 421.0L221.9 428.1L199.8 437.6L171.7 453.5L159.7 461.7L149.6 466.9L138.0 475.4L133.6 477.4L90.0 495.3L49.3 495.3L49.3 292.0L51.3 292.0Z" fill="#fbb96c" fill-rule="evenodd"/>
<path d="M51.3 292.0L114.1 292.0L149.6 301.9L175.7 307.2L197.8 312.8L260.0 318.3L260.0 394.8L256.6 399.6L238.0 419.6L220.1 427.5L197.8 436.8L169.7 451.2L157.7 459.3L149.6 463.2L136.8 473.4L133.3 475.4L107.5 486.2L87.4 494.1L79.4 495.0L49.3 495.3L49.3 292.0L51.3 292.0Z" fill="#fab168" fill-rule="evenodd"/>
<path d="M51.3 292.0L108.9 292.0L149.6 302.9L175.7 308.1L197.8 314.0L260.0 319.4L260.0 387.0L252.6 397.6L239.9 413.6L236.0 417.6L229.1 421.6L217.0 427.5L196.9 435.5L166.3 449.5L147.6 459.9L137.6 469.4L131.9 473.4L109.5 483.8L85.4 492.5L79.4 493.5L67.4 494.1L60.4 495.3L49.3 495.3L49.3 292.0L51.3 292.0Z" fill="#faa864" fill-rule="evenodd"/>
<path d="M51.3 292.0L105.2 292.0L149.6 303.9L175.7 309.1L199.8 315.5L260.0 320.5L260.0 381.9L235.6 413.6L231.2 417.6L228.3 419.6L218.1 425.5L209.8 429.1L166.8 445.5L149.6 452.4L145.6 455.0L143.6 456.9L136.6 465.4L132.4 469.4L126.0 473.4L109.5 482.2L91.4 488.7L81.4 491.6L65.4 493.3L55.9 495.3L49.3 495.3L49.3 292.0L51.3 292.0Z" fill="#f9a060" fill-rule="evenodd"/>
<path d="M51.3 292.0L102.0 292.0L113.5 295.6L135.6 301.0L149.6 304.9L177.7 310.5L199.8 316.6L260.0 321.6L260.0 378.2L242.0 399.6L231.2 413.6L224.4 419.6L215.9 425.1L210.4 427.5L199.8 431.5L171.7 440.8L149.6 446.9L145.6 448.6L141.6 451.8L133.1 463.4L129.3 467.4L115.1 477.4L107.9 481.3L93.4 486.3L79.4 490.6L65.4 492.2L52.2 495.3L49.3 495.3L49.3 292.0L51.3 292.0Z" fill="#f8975a" fill-rule="evenodd"/>
<path d="M51.3 292.0L99.1 292.0L113.5 296.7L135.6 302.1L151.6 306.4L177.7 311.5L199.8 317.7L260.0 322.6L260.0 375.2L239.9 397.6L227.0 413.6L220.9 419.6L215.5 423.5L211.7 425.5L197.8 430.7L171.7 438.1L149.6 442.9L143.6 445.0L139.6 448.3L130.0 461.4L126.5 465.4L112.2 477.4L107.5 480.0L79.4 489.3L63.3 491.5L53.3 493.7L49.3 495.3L49.3 292.0L51.3 292.0Z" fill="#f68e55" fill-rule="evenodd"/>
<path d="M51.3 292.0L96.2 292.0L113.9 298.0L137.6 303.6L149.6 307.0L177.7 312.5L199.8 318.7L260.0 323.7L260.0 372.5L234.8 399.6L221.6 415.6L215.5 421.6L212.6 423.5L201.8 428.0L197.8 429.3L169.7 436.2L151.6 439.5L143.6 441.5L141.6 442.5L139.6 444.0L124.4 463.4L109.5 477.4L105.5 479.3L79.4 488.1L63.3 490.5L53.3 492.6L49.3 493.8L49.3 292.0L51.3 292.0Z" fill="#f5854f" fill-rule="evenodd"/>
<path d="M51.3 292.0L93.3 292.0L113.5 298.9L137.6 304.7L151.6 308.6L177.7 313.4L199.8 319.7L260.0 324.6L260.0 370.1L231.8 399.6L216.8 417.6L211.8 422.2L199.8 427.3L197.8 427.8L167.7 434.3L149.6 437.5L141.6 439.5L139.6 440.8L137.6 442.9L121.0 463.4L115.5 468.9L109.8 475.4L107.5 477.1L77.4 487.5L64.8 489.3L49.3 492.5L49.3 292.0L51.3 292.0Z" fill="#f27c4b" fill-rule="evenodd"/>
<path d="M51.3 292.0L90.4 292.0L113.5 299.9L138.2 306.0L149.6 309.4L177.7 314.5L199.8 320.5L260.0 325.5L260.0 367.7L229.2 399.6L212.3 419.6L209.8 421.3L199.8 425.8L149.6 435.5L139.6 437.8L119.9 461.4L107.5 475.6L77.4 486.5L49.3 491.2L49.3 292.0L51.3 292.0Z" fill="#ee7246" fill-rule="evenodd"/>
<path d="M51.3 292.0L87.8 292.0L111.5 300.2L137.6 307.0L149.6 310.7L177.7 315.5L197.8 320.8L260.0 326.4L260.0 365.3L226.8 399.6L209.5 419.6L197.8 424.4L163.7 430.9L139.6 436.0L119.1 459.4L107.5 473.5L98.6 477.4L77.4 485.5L49.3 490.2L49.3 292.0L51.3 292.0Z" fill="#eb6942" fill-rule="evenodd"/>
<path d="M51.3 292.0L85.7 292.0L91.4 294.4L111.5 301.0L149.6 312.0L177.7 316.6L199.8 321.9L260.0 327.2L260.0 362.8L248.3 375.7L225.9 398.1L209.8 416.1L207.8 417.8L201.8 421.0L197.8 422.3L187.8 424.2L181.7 425.8L163.7 428.7L157.7 430.6L149.6 432.0L139.6 434.4L136.2 437.5L116.7 459.4L112.6 465.4L107.5 471.4L105.5 472.8L97.5 476.6L77.4 484.5L67.4 486.5L49.3 489.1L49.3 292.0L51.3 292.0Z" fill="#e8603e" fill-rule="evenodd"/>
<path d="M51.3 292.0L83.3 292.0L87.4 293.9L95.5 296.7L149.6 313.4L177.7 317.8L197.8 322.3L260.0 328.1L260.0 360.0L256.0 364.1L252.0 369.8L249.5 371.7L247.8 373.7L243.4 377.7L241.9 379.7L239.4 381.7L237.8 383.7L233.5 387.7L232.0 389.7L229.4 391.7L223.9 397.2L221.9 399.9L207.8 414.6L206.5 415.6L201.8 418.0L197.8 419.6L189.8 420.9L179.8 423.5L163.7 426.1L153.1 429.5L139.6 432.5L135.6 435.9L127.6 445.0L115.6 457.4L114.0 459.4L111.5 463.9L108.4 467.4L107.1 469.4L104.3 471.4L97.5 475.3L89.4 478.3L83.4 481.5L77.4 483.5L67.4 485.8L49.3 488.1L49.3 292.0L51.3 292.0Z" fill="#e55a3a" fill-rule="evenodd"/>
<path d="M51.3 292.0L79.8 292.0L89.4 295.8L115.4 304.0L141.6 312.9L149.6 315.0L177.7 319.1L197.8 322.9L260.0 329.0L260.0 356.9L256.0 360.5L250.0 367.8L221.9 394.4L213.8 402.9L204.0 411.6L199.8 413.4L193.8 415.5L159.7 422.9L147.8 427.5L139.6 430.0L137.6 431.1L133.6 434.7L129.6 439.4L113.1 455.4L104.9 467.4L102.8 469.4L96.8 473.4L89.4 476.7L81.4 481.4L67.4 485.0L49.3 487.1L49.3 292.0L51.3 292.0Z" fill="#e25238" fill-rule="evenodd"/>
<path d="M71.4 293.9L77.4 293.4L81.4 294.1L89.4 297.0L112.6 304.0L139.6 314.3L149.6 316.8L175.7 320.1L201.8 324.1L221.9 326.2L252.0 328.8L260.0 329.8L260.0 353.4L256.0 356.3L250.0 362.4L219.9 389.7L211.8 397.4L201.6 405.6L197.8 407.6L191.8 409.6L157.7 417.4L149.6 420.9L137.6 426.8L133.6 429.7L127.6 436.0L109.5 452.4L107.1 455.4L102.2 463.4L99.5 466.6L91.6 473.4L87.4 475.9L83.3 479.4L77.9 481.3L71.4 482.6L67.4 483.8L57.3 485.3L49.3 485.9L49.3 302.1L53.3 299.4L57.3 297.5L63.3 295.7L71.4 293.9Z" fill="#e04a35" fill-rule="evenodd"/>
<path d="M75.4 295.8L79.4 295.4L81.4 295.8L109.7 304.0L137.6 315.9L143.6 317.7L157.7 319.9L195.8 323.8L201.8 325.0L211.8 325.8L221.9 327.2L252.0 329.6L260.0 330.9L260.0 349.4L254.0 353.1L246.0 359.6L209.2 391.7L197.8 399.4L191.8 402.0L153.6 411.4L151.6 412.3L135.6 422.4L131.6 425.6L125.6 431.8L106.1 447.5L104.1 449.5L97.5 461.0L88.6 471.4L81.4 478.7L77.4 480.2L67.4 482.3L61.3 483.3L49.3 484.6L49.3 306.6L59.3 301.4L75.4 295.8Z" fill="#dd4130" fill-rule="evenodd"/>
<path d="M77.4 297.8L79.4 297.3L82.7 298.0L111.5 305.8L137.6 318.8L141.6 319.9L157.7 322.1L195.8 325.0L197.8 325.5L203.8 325.9L205.8 326.5L207.8 326.5L219.9 327.9L221.9 328.4L252.0 330.8L259.2 331.9L260.0 332.1L260.0 343.7L257.5 343.8L256.0 344.9L255.8 345.8L253.9 347.8L246.0 352.8L239.9 358.3L237.5 359.8L209.8 382.6L205.8 385.5L199.8 389.0L187.8 394.2L153.6 403.1L147.6 405.1L131.6 418.8L126.6 423.5L123.7 427.5L120.3 429.5L115.2 433.5L111.7 435.5L109.5 437.5L101.5 442.7L98.1 445.5L95.5 452.4L89.4 462.7L87.4 464.9L85.7 463.4L85.4 462.4L85.1 463.4L83.4 465.0L82.8 467.4L84.3 469.4L83.4 471.4L81.4 472.7L80.6 475.4L79.2 477.4L77.4 478.5L49.3 482.9L49.3 309.1L52.8 307.9L57.3 305.6L77.4 297.8ZM250.8 341.8L254.0 342.5L254.7 341.8L254.0 341.5L252.0 341.4L250.8 341.8ZM243.9 347.8L243.9 347.8ZM229.9 357.8L229.9 357.8ZM209.3 371.7L209.8 372.4L210.4 371.7L209.8 371.4L209.3 371.7ZM103.4 431.5L105.5 432.1L105.8 431.5L105.5 431.0L103.4 431.5ZM89.4 445.5L87.5 447.5L89.4 447.8L89.4 445.5Z" fill="#d9392c" fill-rule="evenodd"/>
<path d="M79.4 299.5L88.1 302.0L109.5 307.1L118.5 311.9L138.9 321.9L157.7 324.4L177.7 326.0L195.8 326.6L201.2 327.9L211.8 328.7L217.0 329.9L227.9 330.5L237.7 331.9L252.0 332.3L260.0 333.9L260.0 338.5L254.0 338.0L252.0 338.5L250.0 339.7L233.2 351.8L231.9 353.3L227.9 355.6L199.8 376.1L146.4 391.7L139.6 394.3L134.4 401.6L123.3 415.6L121.8 417.6L121.2 419.6L98.9 431.5L97.5 432.9L95.5 433.5L91.7 435.5L88.7 437.5L79.3 469.4L78.1 475.4L77.4 476.2L67.6 477.4L63.3 478.3L54.9 479.4L49.3 480.6L49.3 311.2L73.4 302.1L79.4 299.5ZM181.7 385.5L184.0 385.7L183.7 386.2L181.7 386.6L181.5 385.7L181.7 385.5ZM187.8 385.7L187.8 385.7ZM147.6 395.5L148.0 395.6L147.6 396.2L147.6 395.5Z" fill="#d63027" fill-rule="evenodd"/>
<path d="M79.4 301.4L101.5 306.7L109.5 309.1L137.6 323.1L157.7 326.0L193.8 328.5L219.9 331.9L246.0 334.1L248.0 334.5L250.8 335.8L250.0 336.8L249.7 337.8L247.2 339.8L199.8 374.4L139.6 392.1L132.5 401.6L118.2 419.6L89.4 435.1L87.4 435.5L86.6 439.5L76.7 473.4L75.4 474.7L49.3 478.6L49.3 313.1L75.4 302.6L79.4 301.4Z" fill="#c92e27" fill-rule="evenodd"/>
<path d="M75.4 303.7L79.4 302.8L83.4 303.4L107.5 309.8L119.5 315.4L137.6 324.5L159.7 327.4L193.8 329.7L219.9 333.2L246.0 335.2L247.4 335.8L247.7 337.8L201.8 371.5L198.2 373.7L143.6 389.9L139.6 390.7L136.6 393.6L133.6 398.3L117.5 418.4L93.4 431.6L89.4 433.7L87.4 434.2L86.2 435.5L83.6 445.5L75.4 473.2L73.4 474.0L69.4 474.3L63.3 475.5L55.3 476.5L49.3 476.7L49.3 315.3L55.3 311.7L73.4 305.0L75.4 303.7Z" fill="#c22c26" fill-rule="evenodd"/>
<path d="M75.4 305.3L79.4 304.1L81.4 304.3L87.4 306.3L99.5 309.4L101.5 309.6L109.5 311.9L111.5 313.3L113.5 313.9L135.6 325.4L139.6 326.5L149.6 327.5L159.7 329.2L173.7 329.7L187.8 331.2L197.8 331.6L213.8 333.7L219.9 334.9L237.9 336.1L241.9 336.7L246.0 337.8L243.9 338.4L239.9 341.8L205.8 366.4L201.8 369.7L197.8 372.2L143.6 388.2L141.6 388.5L137.6 390.2L127.6 403.6L119.6 413.6L115.8 417.6L90.4 431.5L87.4 432.4L84.5 435.5L83.4 440.5L79.9 451.5L79.7 453.4L78.8 455.4L77.4 461.6L76.6 463.4L74.6 471.4L73.4 472.5L69.4 472.7L55.3 475.2L49.3 474.6L49.3 318.4L55.3 313.6L58.8 311.9L61.3 311.4L73.4 306.7L75.4 305.3Z" fill="#bc2a24" fill-rule="evenodd"/>
<path d="M77.4 307.6L77.7 307.9L79.4 308.2L81.4 308.1L87.4 310.6L107.5 316.2L119.0 321.9L125.6 324.6L133.6 329.1L137.6 330.3L141.6 330.7L143.6 330.3L145.6 331.0L147.6 330.9L149.6 331.6L153.6 332.1L155.7 331.9L159.7 333.2L165.7 334.0L173.7 334.0L175.7 333.6L177.7 334.1L179.7 333.6L181.7 334.3L183.7 334.1L193.8 336.1L197.8 336.3L199.8 335.6L201.8 336.2L203.8 335.2L205.8 336.6L207.8 335.9L209.8 337.5L216.8 339.8L217.6 341.8L217.8 349.8L215.9 351.4L213.8 351.4L211.4 349.8L207.8 348.6L195.8 347.0L191.8 348.4L183.7 354.3L181.7 355.2L177.7 356.1L171.7 356.2L165.7 355.2L157.7 353.3L149.6 353.0L145.6 353.1L141.6 353.7L138.2 355.8L136.3 357.8L134.0 361.8L133.0 365.7L133.6 369.7L135.6 373.1L137.6 375.0L139.6 376.3L143.6 377.7L147.4 379.7L143.7 381.7L135.6 384.5L129.6 391.4L127.6 392.9L125.6 392.7L119.5 388.8L115.5 387.8L111.5 388.6L105.7 391.7L102.8 393.6L101.0 395.6L99.8 397.6L99.3 399.6L99.4 401.6L100.8 405.6L106.8 413.6L106.5 415.6L101.2 419.6L81.4 430.2L80.0 431.5L75.4 448.9L69.4 463.9L67.4 465.7L61.3 466.7L57.3 468.6L55.3 470.6L53.6 471.4L52.7 471.4L49.3 470.6L49.3 324.7L55.3 318.7L57.3 317.2L61.3 316.5L71.4 311.9L73.4 310.5L75.0 309.9L77.4 307.6ZM53.6 453.4L52.1 455.4L55.3 457.6L57.3 457.9L59.0 457.4L59.3 455.4L55.5 453.4L53.6 453.4Z" fill="#b52823" fill-rule="evenodd"/>
<path d="M75.4 311.8L77.4 310.6L79.4 310.3L81.4 310.5L84.4 311.9L89.4 315.5L93.4 317.6L101.5 320.5L123.5 326.9L125.8 327.9L131.6 332.1L135.6 333.8L139.6 333.9L143.6 333.3L153.6 334.3L155.7 334.6L161.7 337.4L165.7 338.3L175.7 336.2L179.7 336.1L183.7 336.7L187.8 338.4L189.6 339.8L190.7 341.8L190.0 343.8L185.9 347.8L183.7 349.1L179.7 350.6L173.7 350.8L165.7 348.8L161.7 348.3L139.6 348.9L133.6 350.7L123.5 356.8L119.5 358.6L115.5 359.8L109.5 360.6L99.5 361.0L91.4 360.8L87.4 360.3L83.4 358.9L79.4 356.1L76.3 351.8L74.9 347.8L72.7 331.9L70.3 321.9L71.1 317.9L73.5 313.9L75.4 311.8ZM201.8 339.6L205.5 339.8L207.6 341.8L205.8 343.0L203.8 343.1L201.8 342.6L200.6 341.8L201.3 339.8L201.8 339.6Z" fill="#ae2622" fill-rule="evenodd"/>
<path d="M79.4 313.3L81.7 313.9L87.4 320.7L89.4 322.2L93.4 324.3L103.5 327.4L117.5 328.6L123.5 330.2L126.0 331.9L130.9 337.8L132.4 339.8L132.3 341.8L130.1 343.8L125.6 346.3L121.5 347.5L117.5 348.2L95.5 348.8L91.4 348.3L87.4 346.9L85.4 345.5L82.8 341.8L81.4 338.0L78.9 327.9L76.9 321.9L76.5 317.9L76.9 315.9L78.1 313.9L79.4 313.3ZM141.6 337.6L143.6 336.7L145.6 336.3L149.6 336.4L153.6 337.1L155.6 337.8L157.2 339.8L157.5 341.8L155.7 343.6L153.6 344.2L149.6 344.6L143.4 343.8L139.3 341.8L138.9 339.8L141.6 337.6ZM175.7 339.6L177.7 339.3L181.7 339.6L182.4 339.8L184.4 341.8L183.2 343.8L181.7 344.7L177.7 345.7L175.7 345.4L173.1 343.8L172.8 341.8L175.0 339.8L175.7 339.6Z" fill="#a92522" fill-rule="evenodd"/>
<path d="M260.0 469.8L235.0 495.3" fill="none" stroke="#3a3a3a" stroke-width="0.75" stroke-dasharray="1.1 0.9" stroke-opacity="0.85"/>
<path d="M260.0 455.9L218.7 495.3" fill="none" stroke="#3a3a3a" stroke-width="0.75" stroke-dasharray="1.1 0.9" stroke-opacity="0.85"/>
<path d="M260.0 440.3L200.7 495.3" fill="none" stroke="#3a3a3a" stroke-width="0.75" stroke-dasharray="1.1 0.9" stroke-opacity="0.85"/>
<path d="M192.5 292.0L215.9 295.9L260.0 299.4M260.0 431.4L241.9 437.7L199.8 478.1L197.8 479.3L158.2 495.3" fill="none" stroke="#3a3a3a" stroke-width="0.75" stroke-dasharray="1.1 0.9" stroke-opacity="0.85"/>
<path d="M147.0 292.0L149.6 292.8L199.8 304.0L225.9 307.4L260.0 309.5M260.0 423.2L219.9 438.2L199.8 457.6L197.8 459.0L157.7 480.4L149.6 482.1L120.3 495.3" fill="none" stroke="#3a3a3a" stroke-width="0.75" stroke-dasharray="1.1 0.9" stroke-opacity="0.85"/>
<path d="M117.0 292.0L149.6 301.4L175.7 306.7L199.8 312.6L260.0 317.8M260.0 399.5L239.9 419.7L198.2 437.5L169.7 453.0L157.7 461.2L149.6 465.1L136.0 475.4L87.2 495.3" fill="none" stroke="#3a3a3a" stroke-width="0.75" stroke-dasharray="1.1 0.9" stroke-opacity="0.85"/>
<path d="M89.0 292.0L112.1 300.0L137.6 306.4L149.6 310.0L177.7 315.0L199.8 320.8L260.0 326.0M260.0 366.5L227.9 399.6L211.0 419.6L209.8 420.4L199.8 424.8L197.8 425.4L149.6 434.6L139.6 436.8L107.5 474.6L77.4 486.0L49.3 490.7" fill="none" stroke="#3a3a3a" stroke-width="0.75" stroke-dasharray="1.1 0.9" stroke-opacity="0.85"/>
<path d="M49.3 312.1L79.4 300.5L109.5 308.2L137.6 322.4L157.7 325.3L195.8 328.0L221.9 331.3L252.7 333.9L254.0 335.0L254.8 333.9L256.2 333.9L256.0 335.8L254.0 335.9L252.0 337.2L199.8 375.2L139.6 393.0L134.9 399.6L119.2 419.6L117.5 420.8L90.0 435.5L87.8 437.5L77.4 473.4L76.0 475.4L49.3 479.5" fill="none" stroke="#3a3a3a" stroke-width="0.75" stroke-dasharray="1.1 0.9" stroke-opacity="0.85"/>
</g>
<clipPath id="cld"><rect x="408.3" y="290.5" width="211.9" height="202.7"/></clipPath>
<g clip-path="url(#cld)">
<rect x="408.3" y="290.5" width="211.9" height="202.7" fill="#2d4773"/>
<rect x="408.3" y="290.5" width="211.9" height="202.7" fill="#2e4a7a"/>
<path d="M416.3 290.5L620.2 290.5L620.2 493.2L408.3 493.2L408.3 412.2L412.3 410.3L414.4 408.9L416.3 406.7L417.4 402.9L418.7 396.9L419.0 392.9L416.8 384.8L416.2 380.8L416.5 376.8L417.8 372.8L419.9 368.8L430.0 352.7L438.2 340.7L439.9 336.7L440.3 334.7L440.1 330.6L439.1 326.6L437.2 322.6L435.7 320.6L432.3 317.6L422.3 311.7L419.0 308.6L417.6 306.6L416.6 304.5L415.7 300.5L415.6 296.5L416.3 290.5Z" fill="#304e80" fill-rule="evenodd"/>
<path d="M430.3 290.5L439.7 290.5L440.9 294.5L445.0 304.5L445.3 306.6L446.9 310.6L446.3 311.7L444.3 310.0L436.3 306.0L432.6 302.5L431.3 300.5L430.0 296.5L429.8 290.5L430.3 290.5ZM448.3 290.5L620.2 290.5L620.2 493.2L408.3 493.2L408.3 421.7L416.3 418.3L418.3 417.0L422.3 408.4L424.3 409.4L426.3 411.4L428.3 412.4L430.3 412.5L432.3 412.0L434.3 410.7L436.3 408.6L438.5 404.9L442.8 394.9L443.6 390.8L443.2 386.8L442.2 384.8L440.3 383.0L438.3 382.0L436.3 381.7L434.3 382.3L433.4 382.8L432.3 384.7L431.9 382.8L438.2 366.8L455.5 332.6L450.1 318.6L449.0 314.6L452.3 313.8L453.4 310.6L453.3 308.6L452.3 306.6L450.3 305.8L448.7 304.5L447.7 302.5L448.3 301.9L448.5 300.5L449.6 298.5L449.7 296.5L446.4 290.5L448.3 290.5ZM430.3 384.7L432.0 384.8L430.3 388.1L430.0 386.8L430.3 384.7ZM426.3 398.1L426.3 399.6L426.3 398.1Z" fill="#315185" fill-rule="evenodd"/>
<path d="M448.3 290.5L620.2 290.5L620.2 493.2L408.3 493.2L408.3 441.4L420.3 441.6L424.5 443.0L426.3 444.6L428.3 445.6L430.1 441.0L431.7 435.0L438.3 417.3L468.9 358.7L470.4 356.7L470.9 354.7L470.3 354.3L468.3 356.3L466.3 357.4L464.3 357.7L462.3 357.0L460.3 355.3L459.1 352.7L458.7 348.7L459.3 344.7L460.5 340.7L462.3 337.0L464.3 335.2L468.3 333.0L472.3 332.2L476.3 332.7L478.3 333.4L479.8 334.7L480.1 336.7L478.3 340.4L478.3 341.7L484.7 338.7L487.1 336.7L486.7 334.7L484.3 333.0L482.3 332.4L478.3 329.4L460.3 312.8L454.3 302.5L452.3 302.3L450.9 300.5L452.2 298.5L447.8 290.5L448.3 290.5ZM476.1 344.7L476.3 345.5L476.3 344.1L476.1 344.7ZM474.1 348.7L474.4 348.7L474.3 347.2L474.1 348.7ZM426.2 453.1L426.3 453.9L426.3 451.2L426.2 453.1ZM424.1 459.1L424.3 459.6L424.8 459.1L424.3 457.5L424.1 459.1Z" fill="#32548a" fill-rule="evenodd"/>
<path d="M450.3 290.5L620.2 290.5L620.2 493.2L408.3 493.2L408.3 446.3L414.3 447.5L416.9 449.0L418.1 451.1L418.5 453.1L418.5 459.1L422.3 470.6L426.3 470.6L436.3 469.1L438.3 468.2L439.2 467.1L440.6 443.0L440.6 435.0L440.8 433.0L441.8 431.0L444.3 428.6L448.3 426.6L461.4 418.9L472.3 412.1L476.3 407.4L485.9 392.9L489.4 386.8L490.0 384.8L488.9 382.8L480.6 376.8L478.7 374.8L477.6 372.8L477.0 370.8L477.0 366.8L479.1 360.7L482.3 355.6L486.3 351.5L490.3 349.0L496.3 347.2L500.3 346.9L504.3 347.1L514.2 349.2L518.2 349.5L522.2 348.8L527.2 346.7L532.2 344.0L538.2 342.3L544.2 341.7L550.2 342.3L554.2 344.0L555.1 344.7L556.2 346.7L556.5 348.7L556.3 352.7L553.7 364.8L554.2 365.5L556.2 365.4L563.2 360.7L579.3 348.7L581.4 346.7L583.5 342.7L582.2 341.4L580.8 338.7L578.2 337.6L574.2 336.9L564.2 336.3L548.4 334.7L514.2 332.4L496.3 330.3L494.3 329.8L470.3 316.1L462.3 309.6L456.3 303.6L454.3 300.9L452.8 300.5L453.4 298.5L448.7 290.5L450.3 290.5ZM518.5 370.8L517.7 372.8L518.2 372.9L521.1 372.8L526.0 370.8L524.2 369.8L522.2 369.3L520.2 369.8L518.5 370.8ZM460.3 390.1L462.3 389.5L464.3 389.4L466.3 390.1L468.3 392.0L469.3 396.9L469.1 400.9L468.3 404.6L466.7 406.9L464.3 408.4L458.3 409.5L454.3 409.1L452.3 407.9L451.7 406.9L451.4 404.9L452.2 400.9L454.0 396.9L456.3 393.3L460.3 390.1Z" fill="#345890" fill-rule="evenodd"/>
<path d="M450.3 290.5L620.2 290.5L620.2 493.2L408.3 493.2L408.3 459.2L410.3 459.2L412.3 460.2L416.3 464.1L417.5 467.1L417.7 473.1L418.3 473.7L420.3 474.4L436.3 471.9L439.2 471.1L442.1 469.1L442.5 467.1L443.4 435.0L444.0 433.0L446.3 430.4L470.0 416.9L473.3 414.9L475.7 412.9L490.3 391.1L494.3 384.5L496.3 382.1L522.2 376.0L556.2 369.3L560.1 366.8L566.2 361.7L586.8 346.7L597.0 338.7L596.7 336.7L594.2 336.1L582.2 335.1L560.2 332.4L518.2 329.9L496.3 327.5L492.3 325.8L474.3 315.6L468.3 311.5L456.3 301.4L449.4 290.5L450.3 290.5ZM534.2 348.7L538.2 347.7L542.2 347.5L546.2 348.1L548.2 349.1L550.2 351.7L550.8 354.7L550.3 358.7L548.2 363.0L544.2 365.4L540.2 366.4L536.2 366.9L532.2 366.5L529.1 364.8L526.9 362.7L525.4 360.7L524.8 358.7L525.1 356.7L527.9 352.7L530.2 350.7L534.2 348.7ZM494.3 354.1L500.3 353.2L504.3 353.6L508.3 354.8L511.8 356.7L513.8 358.7L514.7 360.7L514.7 362.7L513.4 366.8L512.4 368.8L511.1 370.8L508.3 373.7L504.3 375.3L498.3 376.6L492.3 378.4L490.3 378.0L488.3 376.9L485.8 374.8L484.3 372.8L483.5 370.8L483.2 366.8L484.4 362.7L487.2 358.7L490.3 356.1L494.3 354.1Z" fill="#365b95" fill-rule="evenodd"/>
<path d="M450.3 290.5L620.2 290.5L620.2 493.2L408.3 493.2L408.3 465.7L412.3 467.3L413.3 469.1L413.3 473.1L413.8 475.1L416.3 476.5L436.3 473.5L442.6 471.1L443.8 469.1L444.1 465.1L445.0 435.0L446.0 433.0L448.3 430.9L473.1 416.9L476.3 414.5L488.4 396.9L496.3 384.1L498.3 382.9L500.3 382.4L522.2 377.5L556.6 370.8L559.9 368.8L567.4 362.7L594.5 342.7L601.4 336.7L594.3 334.7L584.2 333.8L558.7 330.6L516.2 328.2L496.3 325.9L492.3 324.0L474.3 313.8L470.3 311.0L458.3 301.0L454.3 296.9L450.3 290.5ZM536.2 356.1L538.2 355.0L540.2 354.8L542.2 355.8L542.8 356.7L541.7 358.7L538.2 359.7L536.2 359.3L535.5 358.7L535.5 356.7L536.2 356.1ZM494.3 360.4L496.3 359.7L500.3 359.2L502.3 359.4L505.6 360.7L507.7 362.7L508.5 364.8L508.6 366.8L507.8 368.8L506.1 370.8L500.3 373.1L494.3 374.3L492.3 374.2L490.3 373.0L488.9 370.8L488.4 368.8L488.6 366.8L489.4 364.8L490.9 362.7L494.3 360.4Z" fill="#395f9b" fill-rule="evenodd"/>
<path d="M452.3 290.5L620.2 290.5L620.2 493.2L408.3 493.2L408.3 473.4L408.7 475.1L410.3 476.1L412.4 477.1L416.3 477.8L436.3 474.5L440.6 473.1L444.0 471.1L444.8 469.1L446.2 435.0L447.4 433.0L448.3 432.1L454.3 429.1L475.1 416.9L477.4 414.9L484.3 405.0L497.1 384.8L498.3 383.9L500.3 383.4L556.2 371.8L558.2 370.9L600.2 339.4L604.5 336.7L604.9 334.7L604.2 334.4L600.2 334.5L556.2 329.4L516.2 327.1L496.3 324.6L492.3 322.7L472.3 311.2L454.3 295.6L450.6 290.5L452.3 290.5Z" fill="#3b62a0" fill-rule="evenodd"/>
<path d="M452.3 290.5L620.2 290.5L620.2 493.2L408.3 493.2L408.3 478.4L416.3 478.6L436.3 475.5L442.3 473.3L445.0 471.1L445.6 469.1L446.3 457.1L447.0 435.0L448.3 433.2L472.3 419.5L476.3 417.1L478.3 415.3L498.3 384.9L520.2 379.9L556.2 372.7L558.2 371.9L604.2 337.7L605.5 336.7L606.3 334.7L604.2 333.7L600.2 333.6L560.2 328.7L516.2 326.2L496.3 323.8L472.3 310.1L456.3 296.3L451.2 290.5L452.3 290.5Z" fill="#3d67a5" fill-rule="evenodd"/>
<path d="M452.3 290.5L620.2 290.5L620.2 493.2L408.3 493.2L408.3 480.1L416.3 479.4L436.3 476.3L442.3 474.2L444.3 473.0L446.0 471.1L446.4 469.1L447.1 457.1L447.7 435.0L448.3 434.2L470.3 421.6L478.3 416.5L484.9 406.9L498.3 386.0L501.4 384.8L512.3 382.4L546.2 375.6L550.2 374.4L556.2 373.6L558.2 372.8L560.2 371.7L602.2 340.1L606.6 336.7L607.7 334.7L606.2 333.6L604.2 333.0L582.2 330.8L560.2 328.0L516.2 325.4L496.3 323.1L472.3 309.1L454.3 293.3L451.7 290.5L452.3 290.5Z" fill="#406dab" fill-rule="evenodd"/>
<path d="M452.3 290.5L620.2 290.5L620.2 493.2L408.3 493.2L408.3 481.6L438.3 476.8L446.4 473.1L447.3 471.1L447.4 469.1L448.7 435.0L478.3 418.1L487.3 404.9L497.8 388.8L498.8 386.8L500.3 386.1L514.4 382.8L558.2 374.0L598.2 344.3L607.8 336.7L609.9 334.7L608.2 333.1L606.8 332.6L560.2 327.2L516.2 324.5L496.3 322.1L473.0 308.6L452.3 290.5Z" fill="#4272b0" fill-rule="evenodd"/>
<path d="M454.3 290.5L620.2 290.5L620.2 493.2L408.3 493.2L408.3 483.1L414.3 482.3L416.3 482.4L418.3 481.2L424.3 480.6L430.2 479.2L438.3 478.3L442.3 477.0L444.3 475.6L450.3 473.1L451.0 471.1L452.4 469.1L452.7 467.1L455.0 461.1L456.4 455.1L457.8 445.0L459.3 441.0L460.8 439.0L472.9 429.0L472.3 427.5L470.3 426.8L469.8 425.0L472.3 423.4L474.3 423.8L474.8 425.0L476.3 425.9L478.0 425.0L480.1 423.0L478.4 421.0L480.0 418.9L482.3 414.6L484.3 413.3L486.3 417.0L488.3 416.0L490.3 413.6L493.7 410.9L496.3 407.5L498.3 406.1L506.3 398.2L508.3 397.2L516.2 395.2L548.2 389.1L563.6 382.8L573.8 374.8L580.2 368.8L584.2 366.3L590.2 360.6L598.6 354.7L597.5 352.7L592.2 351.3L591.8 350.7L608.2 337.7L614.9 336.7L616.2 336.0L617.4 334.7L616.2 332.6L614.2 331.8L612.2 331.5L604.2 331.4L597.6 330.6L590.2 329.2L580.2 328.6L558.2 326.2L516.2 323.6L496.3 321.0L474.3 308.5L453.1 290.5L454.3 290.5ZM584.2 356.5L585.5 356.7L584.2 359.4L582.5 360.7L580.2 361.1L579.6 360.7L580.2 360.6L584.2 356.5ZM576.2 362.3L578.2 361.3L579.3 362.7L579.0 364.8L578.2 366.5L574.2 366.8L573.5 364.8L576.2 362.3ZM568.2 368.7L568.3 370.8L567.7 370.8L568.2 368.7ZM542.2 378.7L546.9 378.8L544.9 380.8L544.2 381.0L538.2 380.8L540.9 378.8L542.2 378.7ZM522.2 382.8L522.8 382.8L523.1 384.8L522.2 385.6L520.2 386.1L518.2 386.1L516.2 385.5L514.2 385.8L512.0 384.8L516.2 384.7L522.2 382.8ZM502.3 387.9L503.1 388.8L498.7 392.9L498.3 394.4L497.7 392.9L498.0 390.8L500.3 388.8L502.3 387.9ZM496.3 394.5L497.5 394.9L496.3 395.4L496.3 394.5ZM494.3 396.6L495.1 396.9L494.3 398.6L494.3 396.6ZM492.3 400.1L494.3 399.3L494.6 400.9L494.4 404.9L490.3 407.1L488.8 408.9L488.3 410.3L486.3 409.3L486.2 408.9L489.5 404.9L490.1 402.9L492.3 400.1ZM462.3 428.9L462.5 429.0L462.3 429.7L462.3 428.9ZM456.3 432.7L458.3 432.2L458.7 433.0L458.3 435.2L456.3 436.6L454.3 439.0L452.3 440.5L450.3 440.3L450.3 436.7L451.7 435.0L454.3 434.0L456.3 432.7Z" fill="#4677b5" fill-rule="evenodd"/>
<path d="M454.3 290.5L620.2 290.5L620.2 333.0L616.2 331.0L614.2 330.4L604.2 330.5L594.2 328.1L578.2 327.4L558.2 325.3L516.2 322.6L498.3 320.4L494.1 318.6L474.3 306.9L454.3 290.5ZM618.2 338.3L620.2 337.4L620.2 493.2L408.3 493.2L408.3 484.4L412.3 484.0L416.3 484.2L418.3 483.6L422.3 483.3L434.3 480.3L442.3 479.2L453.0 473.1L454.6 471.1L459.7 461.1L462.8 447.0L463.3 445.0L464.4 443.0L478.4 429.0L484.4 425.0L496.3 414.5L508.3 405.5L512.3 403.1L550.2 396.4L564.2 389.2L568.2 386.3L596.9 360.7L602.2 356.6L603.3 354.7L603.0 352.7L599.0 348.7L599.5 346.7L601.2 344.7L608.2 339.2L616.2 338.8L618.2 338.3Z" fill="#4a7cba" fill-rule="evenodd"/>
<path d="M456.3 290.5L620.2 290.5L620.2 331.0L614.2 329.4L604.2 329.3L594.2 326.9L578.2 326.4L550.2 323.6L514.2 321.3L498.3 319.0L493.1 316.6L476.2 306.6L461.0 294.5L455.3 290.5L456.3 290.5ZM620.2 340.3L620.2 493.2L408.3 493.2L408.3 485.6L417.1 485.2L430.5 483.2L436.3 481.7L446.3 478.6L455.2 473.1L461.7 465.1L462.8 463.1L467.1 447.0L469.8 443.0L480.3 430.8L482.3 429.1L488.8 425.0L494.3 420.4L498.3 417.6L514.2 408.7L518.2 407.6L552.2 401.7L556.2 399.9L566.2 393.5L570.2 390.3L604.3 358.7L605.6 356.7L606.0 354.7L605.7 352.7L603.3 348.7L602.9 346.7L603.9 344.7L606.0 342.7L608.2 341.3L610.2 340.8L616.2 341.0L620.2 340.3Z" fill="#5183be" fill-rule="evenodd"/>
<path d="M458.3 290.5L620.2 290.5L620.2 329.6L614.2 328.4L604.2 328.2L598.2 326.5L594.2 326.0L569.7 324.6L528.2 320.5L514.2 320.0L498.3 317.4L492.7 314.6L476.3 304.5L462.8 294.5L456.8 290.5L458.3 290.5ZM608.2 344.5L610.2 343.7L616.2 343.5L620.2 342.8L620.2 493.2L408.3 493.2L408.3 486.7L420.3 485.7L436.3 483.2L438.3 482.1L446.3 479.6L457.5 473.1L463.9 467.1L465.2 465.1L470.3 448.4L479.5 435.0L483.3 431.0L489.9 427.0L496.3 422.3L514.2 413.8L518.2 412.4L554.2 406.3L558.2 404.4L566.2 398.6L572.2 393.5L606.2 360.5L607.4 358.7L608.5 354.7L608.5 352.7L606.9 346.7L608.2 344.5Z" fill="#5889c2" fill-rule="evenodd"/>
<path d="M460.3 290.5L620.2 290.5L620.2 328.4L614.2 327.5L604.2 327.0L594.2 325.1L568.2 323.4L530.2 318.9L524.2 318.6L514.2 318.7L500.3 315.9L496.4 314.6L493.0 312.6L458.6 290.5L460.3 290.5ZM616.2 346.6L620.2 345.6L620.2 493.2L408.3 493.2L408.3 487.7L420.3 486.5L436.3 483.9L446.3 480.4L448.7 479.2L460.1 473.1L465.6 469.1L467.1 467.1L468.3 464.4L473.4 449.0L479.8 439.0L481.8 435.0L483.6 433.0L486.4 431.0L498.3 424.0L520.2 416.1L554.2 410.8L558.2 409.5L560.2 408.2L568.2 401.7L574.2 396.2L606.2 363.9L608.5 360.7L610.6 356.7L612.7 348.7L614.2 347.5L616.2 346.6Z" fill="#5f90c6" fill-rule="evenodd"/>
<path d="M462.3 290.5L620.2 290.5L620.2 327.4L614.2 326.6L604.2 325.9L594.2 324.3L576.2 323.0L558.2 321.1L528.2 316.8L522.2 316.6L516.2 317.1L511.6 316.6L498.3 312.7L496.3 311.8L484.7 304.5L460.7 290.5L462.3 290.5ZM618.2 350.2L620.2 349.0L620.2 493.2L408.3 493.2L408.3 488.7L420.3 487.3L436.3 484.6L448.3 480.2L459.0 475.1L466.3 471.0L468.3 469.1L469.5 467.1L475.4 451.1L477.3 447.0L480.3 442.4L483.8 435.0L488.3 431.5L498.3 426.2L522.2 419.5L556.2 414.3L560.7 412.9L562.2 411.8L576.2 398.3L606.2 367.1L610.9 360.7L615.7 352.7L618.2 350.2Z" fill="#6899ca" fill-rule="evenodd"/>
<path d="M464.3 290.5L620.2 290.5L620.2 326.4L594.2 323.5L558.2 320.0L526.2 314.8L522.2 314.4L516.2 315.1L512.3 314.6L504.3 311.4L498.3 310.0L496.3 309.1L481.9 300.5L463.4 290.5L464.3 290.5ZM620.2 353.2L620.2 493.2L408.3 493.2L408.3 489.7L432.3 486.1L438.3 484.7L446.3 481.9L460.3 475.8L466.0 473.1L469.2 471.1L471.6 467.1L475.3 457.1L478.3 450.1L482.0 443.0L485.6 435.0L488.3 433.2L496.3 429.4L498.3 428.1L502.3 426.8L526.2 422.4L558.2 417.7L562.2 416.3L564.2 414.9L606.2 370.0L616.2 357.4L620.2 353.2Z" fill="#71a1ce" fill-rule="evenodd"/>
<path d="M468.3 290.5L620.2 290.5L620.2 325.5L558.2 318.9L522.2 312.4L520.2 312.1L516.2 312.8L514.2 312.0L510.3 311.0L508.3 309.9L503.2 308.6L498.3 307.8L466.9 290.5L468.3 290.5ZM620.2 357.5L620.2 493.2L408.3 493.2L408.3 490.6L438.3 485.7L470.3 473.1L472.0 471.1L473.0 469.1L486.3 437.0L488.3 434.9L498.3 430.2L502.1 429.0L558.2 421.4L562.2 419.9L564.2 419.6L620.2 357.5Z" fill="#7aaad2" fill-rule="evenodd"/>
<path d="M472.3 290.5L620.2 290.5L620.2 324.5L558.2 317.8L524.2 311.3L514.2 308.1L506.3 307.6L498.3 306.1L482.3 297.5L470.3 290.5L472.3 290.5ZM620.2 362.3L620.2 493.2L408.3 493.2L408.3 491.6L434.7 487.2L440.3 486.7L442.8 485.2L448.3 482.9L466.3 476.8L472.3 474.3L473.8 473.1L478.3 464.6L482.9 459.1L484.1 455.1L487.9 449.0L488.6 445.0L495.5 439.0L498.3 435.9L502.3 435.6L514.2 431.7L524.2 429.2L558.2 423.4L566.2 421.1L580.2 407.3L596.3 388.8L602.2 383.8L604.3 380.8L606.7 378.8L608.2 376.3L612.2 373.0L614.2 370.5L616.2 369.2L618.4 364.8L620.2 362.3Z" fill="#83b1d5" fill-rule="evenodd"/>
<path d="M474.3 290.5L620.2 290.5L620.2 323.5L560.2 317.0L528.2 310.9L522.2 309.6L514.2 307.1L506.3 306.3L500.3 305.2L496.3 303.6L484.3 297.3L473.0 290.5L474.3 290.5ZM620.2 369.6L620.2 493.2L408.3 493.2L408.3 492.5L427.1 489.2L436.3 488.1L440.3 488.6L442.3 488.1L446.5 485.2L450.3 483.3L456.3 482.2L462.3 479.5L466.3 478.5L470.3 476.9L473.6 475.1L476.3 473.1L478.3 470.3L484.6 463.1L495.6 445.0L497.6 443.0L500.3 441.4L506.3 438.7L524.2 432.1L532.2 429.6L556.2 425.4L566.2 422.6L583.1 408.9L599.3 390.8L610.6 378.8L620.2 369.6Z" fill="#8cb8d8" fill-rule="evenodd"/>
<path d="M476.3 290.5L620.2 290.5L620.2 322.5L558.2 315.7L526.2 309.5L515.9 306.6L504.3 304.9L498.3 303.3L494.3 301.4L482.3 295.1L475.1 290.5L476.3 290.5ZM620.2 373.5L620.2 493.2L409.6 493.2L424.3 490.5L432.3 489.4L436.3 489.2L440.3 489.9L442.3 489.7L450.3 484.7L452.3 484.1L456.3 483.7L472.7 477.1L478.5 473.1L486.5 465.1L498.3 447.8L502.3 444.6L509.5 441.0L532.2 431.0L534.2 430.4L556.2 426.7L566.2 423.7L570.5 421.0L584.3 410.9L612.0 380.8L620.2 373.5Z" fill="#96c0dc" fill-rule="evenodd"/>
<path d="M478.3 290.5L620.2 290.5L620.2 321.5L558.2 314.6L528.2 308.9L516.2 305.9L506.3 304.3L500.3 302.8L496.3 301.2L482.3 294.0L476.9 290.5L478.3 290.5ZM620.2 376.2L620.2 493.2L414.2 493.2L430.3 490.6L434.3 490.3L440.3 491.0L442.3 490.8L446.1 489.2L450.3 486.2L456.3 484.8L460.3 483.3L464.3 481.5L470.9 479.2L474.8 477.1L480.9 473.1L488.3 466.9L490.3 464.6L500.3 450.6L502.3 448.5L504.4 447.0L528.2 434.3L534.2 431.5L556.2 427.9L566.2 424.6L569.4 423.0L584.2 413.5L586.2 411.9L592.2 404.8L612.9 382.8L616.2 379.5L620.2 376.2Z" fill="#a0c8e0" fill-rule="evenodd"/>
<path d="M480.3 290.5L620.2 290.5L620.2 320.5L558.2 313.6L528.2 307.9L516.2 305.1L508.3 303.9L500.3 301.8L496.3 300.1L482.3 293.0L478.5 290.5L480.3 290.5ZM620.2 378.6L620.2 493.2L418.5 493.2L430.3 491.5L434.3 491.4L440.3 492.1L442.3 491.8L446.3 490.1L450.3 487.6L460.3 484.3L472.3 479.5L476.9 477.1L483.5 473.1L490.3 468.4L496.3 460.3L504.3 450.9L532.2 433.6L534.2 432.6L536.2 432.2L556.2 428.9L566.2 425.5L585.3 414.9L587.7 412.9L594.2 405.1L614.2 384.0L620.2 378.6Z" fill="#a8cde3" fill-rule="evenodd"/>
<path d="M480.3 290.5L620.2 290.5L620.2 319.4L558.2 312.7L510.3 303.5L498.3 300.0L482.3 292.0L480.0 290.5L480.3 290.5ZM620.2 380.8L620.2 493.2L423.4 493.2L430.3 492.5L440.3 493.1L442.3 492.7L452.3 488.0L460.3 485.3L474.3 479.5L490.2 471.1L492.7 469.1L497.0 463.1L506.3 452.8L532.2 434.7L534.2 433.6L558.2 429.3L569.3 425.0L586.2 416.2L588.2 414.8L594.7 406.9L615.8 384.8L620.2 380.8Z" fill="#b0d3e5" fill-rule="evenodd"/>
<path d="M482.3 290.5L620.2 290.5L620.2 318.4L558.2 311.7L510.3 302.7L498.3 299.0L481.4 290.5L482.3 290.5ZM618.2 384.7L620.2 382.8L620.2 493.2L443.3 493.2L452.3 489.2L474.3 480.4L492.3 472.0L494.3 470.4L498.3 464.8L507.6 455.1L534.2 434.5L558.2 430.2L571.2 425.0L588.1 416.9L590.2 415.0L596.2 407.4L618.2 384.7Z" fill="#b8d8e8" fill-rule="evenodd"/>
<path d="M484.3 290.5L620.2 290.5L620.2 317.4L558.2 310.7L510.3 301.9L499.6 298.5L482.9 290.5L484.3 290.5ZM620.2 384.9L620.2 493.2L445.3 493.2L494.3 473.1L496.2 471.1L499.0 467.1L509.1 457.1L534.2 435.8L558.2 431.2L587.3 418.9L590.2 417.4L597.0 408.9L620.2 384.9Z" fill="#c0ddeb" fill-rule="evenodd"/>
<path d="M486.3 290.5L620.2 290.5L620.2 316.4L560.2 310.0L510.3 301.0L500.3 297.8L484.8 290.5L486.3 290.5ZM620.2 387.1L620.2 493.2L447.4 493.2L496.3 473.8L497.2 473.1L502.0 467.1L534.2 437.5L536.2 436.7L560.2 431.5L570.2 427.2L590.2 419.3L598.2 410.0L620.2 387.1Z" fill="#c8e2ee" fill-rule="evenodd"/>
<path d="M488.3 290.5L620.2 290.5L620.2 315.5L560.2 308.9L512.7 300.5L500.3 296.7L486.9 290.5L488.3 290.5ZM620.2 389.7L620.2 493.2L449.9 493.2L474.3 483.4L496.6 475.1L499.3 473.1L504.3 468.2L516.2 457.5L532.8 441.0L536.2 438.5L560.2 432.6L568.2 428.8L590.2 420.4L592.3 418.9L620.2 389.7Z" fill="#cfe7f1" fill-rule="evenodd"/>
<path d="M490.3 290.5L620.2 290.5L620.2 314.5L560.2 307.9L518.0 300.5L510.3 299.0L500.3 295.6L489.1 290.5L490.3 290.5ZM620.2 392.5L620.2 493.2L452.9 493.2L474.3 484.5L494.9 477.1L499.1 475.1L518.4 459.1L533.6 443.0L536.2 440.8L540.9 439.0L560.2 433.8L568.2 429.8L591.4 421.0L594.2 418.9L605.0 408.9L620.2 392.5Z" fill="#d6ebf3" fill-rule="evenodd"/>
<path d="M492.3 290.5L620.2 290.5L620.2 313.6L560.2 306.8L518.2 299.5L510.3 297.8L502.3 295.2L491.4 290.5L492.3 290.5ZM620.2 395.6L620.2 493.2L455.8 493.2L475.8 485.2L496.3 477.9L501.6 475.1L510.2 469.1L520.1 461.1L526.4 455.1L535.3 445.0L538.2 442.8L542.1 441.0L558.2 436.0L568.2 430.7L588.2 423.4L593.4 421.0L601.5 414.9L608.2 409.2L620.2 395.6Z" fill="#ddf0f6" fill-rule="evenodd"/>
<path d="M494.3 290.5L620.2 290.5L620.2 312.6L558.2 305.5L512.3 297.2L502.3 294.1L493.8 290.5L494.3 290.5ZM620.2 399.2L620.2 493.2L458.6 493.2L496.3 479.2L504.5 475.1L510.8 471.1L524.1 461.1L530.6 455.1L536.2 448.9L540.2 445.6L545.1 443.0L558.2 437.8L568.2 431.6L588.2 424.5L595.6 421.0L605.0 414.9L610.2 410.9L620.2 399.2Z" fill="#e0f0f3" fill-rule="evenodd"/>
<path d="M496.3 290.5L620.2 290.5L620.2 311.6L558.2 304.5L512.3 296.0L502.3 293.0L496.3 290.5ZM620.2 403.3L620.2 493.2L461.6 493.2L496.3 480.4L507.8 475.1L525.4 463.1L542.2 449.3L546.2 446.8L556.2 441.7L567.6 433.0L592.2 423.8L609.1 414.9L613.7 410.9L620.2 403.3Z" fill="#e2f0f0" fill-rule="evenodd"/>
<path d="M500.3 290.5L620.2 290.5L620.2 310.6L558.2 303.6L512.3 294.7L498.8 290.5L500.3 290.5ZM620.2 407.6L620.2 493.2L465.2 493.2L472.3 490.8L496.3 481.6L510.3 475.5L529.3 463.1L544.2 452.7L556.2 445.5L560.2 441.8L566.5 435.0L568.2 433.7L592.0 425.0L609.8 416.9L612.2 415.6L620.2 407.6Z" fill="#e5eee4" fill-rule="evenodd"/>
<path d="M502.3 290.5L620.2 290.5L620.2 309.4L558.2 302.6L510.3 293.0L501.6 290.5L502.3 290.5ZM620.2 411.3L620.2 493.2L470.0 493.2L510.3 477.2L558.2 447.8L568.2 434.9L588.2 427.4L612.2 417.8L620.2 411.3Z" fill="#e8ecd8" fill-rule="evenodd"/>
<path d="M506.3 290.5L620.2 290.5L620.2 308.1L558.2 301.7L510.3 291.8L505.5 290.5L506.3 290.5ZM620.2 414.1L620.2 493.2L474.5 493.2L510.3 478.7L550.7 455.1L560.2 449.3L569.0 437.0L571.8 435.0L590.2 427.6L614.0 418.9L620.2 414.1Z" fill="#ece9c4" fill-rule="evenodd"/>
<path d="M512.3 290.5L620.2 290.5L620.2 306.5L560.2 301.2L510.3 290.5L512.3 290.5ZM620.2 416.4L620.2 493.2L478.5 493.2L510.3 480.0L554.2 455.2L560.2 451.4L562.2 449.4L569.5 439.0L572.2 436.6L590.2 428.6L614.2 420.2L620.2 416.4Z" fill="#f0e6b0" fill-rule="evenodd"/>
<path d="M518.2 290.5L620.2 290.5L620.2 304.7L594.2 303.2L560.2 300.3L538.2 295.7L516.7 290.5L518.2 290.5ZM620.2 418.2L620.2 493.2L482.5 493.2L512.3 480.2L554.2 457.3L562.2 451.6L564.5 449.0L570.2 441.0L572.2 438.8L574.6 437.0L588.2 430.3L614.2 421.5L620.2 418.2Z" fill="#f4e5a8" fill-rule="evenodd"/>
<path d="M522.2 290.5L620.2 290.5L620.2 303.0L594.2 302.1L560.2 299.5L536.2 294.3L522.2 290.5ZM618.2 420.8L620.2 419.8L620.2 493.2L486.5 493.2L513.0 481.2L554.2 459.3L558.2 456.7L562.8 453.1L566.4 449.0L572.2 441.5L574.2 439.5L577.7 437.0L584.8 433.0L590.2 430.5L613.2 423.0L618.2 420.8Z" fill="#f8e4a0" fill-rule="evenodd"/>
<path d="M528.2 290.5L620.2 290.5L620.2 301.6L594.2 301.0L560.2 298.7L536.2 293.4L526.5 290.5L528.2 290.5ZM616.2 422.9L620.2 421.1L620.2 493.2L490.4 493.2L515.6 481.2L556.2 460.1L560.2 457.1L564.8 453.1L575.3 441.0L580.6 437.0L587.0 433.0L592.2 430.7L616.2 422.9Z" fill="#fae295" fill-rule="evenodd"/>
<path d="M530.2 290.5L620.2 290.5L620.2 300.4L594.2 299.9L558.2 297.7L536.2 292.5L529.9 290.5L530.2 290.5ZM620.2 422.3L620.2 493.2L494.4 493.2L508.3 485.9L556.2 462.1L564.7 455.1L578.0 441.0L588.2 433.5L592.2 431.8L607.4 427.0L620.2 422.3Z" fill="#fde08a" fill-rule="evenodd"/>
<path d="M534.2 290.5L620.2 290.5L620.2 299.5L594.2 298.8L558.2 297.0L532.9 290.5L534.2 290.5ZM616.2 424.8L620.2 423.3L620.2 493.2L498.3 493.2L510.3 486.3L557.8 463.1L566.2 455.6L580.7 441.0L587.8 435.0L590.2 433.5L616.2 424.8Z" fill="#fdd27f" fill-rule="evenodd"/>
<path d="M536.2 290.5L620.2 290.5L620.2 298.6L558.2 296.1L535.6 290.5L536.2 290.5ZM620.2 424.3L620.2 493.2L501.8 493.2L510.3 487.7L558.2 465.2L581.1 443.0L590.2 434.6L620.2 424.3Z" fill="#fcca79" fill-rule="evenodd"/>
<path d="M540.2 290.5L620.2 290.5L620.2 298.0L560.2 295.4L539.0 290.5L540.2 290.5ZM616.2 426.6L620.2 425.2L620.2 493.2L504.6 493.2L510.3 489.2L556.2 468.0L560.2 465.8L590.2 436.2L616.2 426.6Z" fill="#fcc172" fill-rule="evenodd"/>
<path d="M544.2 290.5L620.2 290.5L620.2 297.4L594.2 295.7L560.2 294.5L542.7 290.5L544.2 290.5ZM618.2 426.7L620.2 426.0L620.2 493.2L507.2 493.2L513.7 489.2L560.2 468.1L582.2 446.6L590.2 438.1L591.8 437.0L606.2 431.0L618.2 426.7Z" fill="#fbb96c" fill-rule="evenodd"/>
<path d="M548.2 290.5L620.2 290.5L620.2 296.9L594.2 294.7L560.2 293.5L546.4 290.5L548.2 290.5ZM620.2 426.9L620.2 493.2L509.8 493.2L517.4 489.2L552.2 474.1L560.2 470.1L563.8 467.1L592.2 438.6L595.0 437.0L606.2 431.8L620.2 426.9Z" fill="#fab168" fill-rule="evenodd"/>
<path d="M550.2 290.5L620.2 290.5L620.2 296.3L616.2 295.6L610.2 295.5L594.2 293.7L560.2 292.6L550.2 290.5ZM618.2 428.4L620.2 427.7L620.2 493.2L512.9 493.2L521.5 489.2L554.2 475.5L560.2 472.2L564.2 469.0L572.2 460.8L584.2 449.3L592.0 441.0L594.2 439.3L605.5 433.0L618.2 428.4Z" fill="#faa864" fill-rule="evenodd"/>
<path d="M554.2 290.5L620.2 290.5L620.2 295.7L616.2 294.9L610.2 294.9L594.2 292.7L562.2 291.7L554.2 290.5ZM620.2 428.4L620.2 493.2L516.6 493.2L552.2 478.7L558.2 475.8L562.2 473.0L566.2 469.4L594.7 441.0L600.5 437.0L607.5 433.0L620.2 428.4Z" fill="#f9a060" fill-rule="evenodd"/>
<path d="M560.2 290.5L620.2 290.5L620.2 295.2L616.2 294.1L610.2 294.3L594.2 291.7L559.4 290.5L560.2 290.5ZM616.2 430.7L620.2 429.2L620.2 493.2L521.2 493.2L552.2 481.1L558.2 478.2L566.2 471.6L592.9 445.0L597.4 441.0L606.2 434.6L608.2 433.5L616.2 430.7Z" fill="#f8975a" fill-rule="evenodd"/>
<path d="M590.2 290.5L620.2 290.5L620.2 294.6L618.2 293.5L610.2 293.6L598.2 291.2L590.2 290.5ZM618.2 430.8L620.2 430.0L620.2 493.2L526.8 493.2L554.2 482.7L558.2 480.8L566.2 473.9L595.4 445.0L602.3 439.0L608.2 434.4L618.2 430.8Z" fill="#f68e55" fill-rule="evenodd"/>
<path d="M600.2 290.5L620.2 290.5L620.2 293.3L618.2 292.5L616.2 292.4L610.2 292.9L599.3 290.5L600.2 290.5ZM620.2 430.9L620.2 493.2L533.5 493.2L558.2 483.6L597.9 445.0L608.2 435.5L620.2 430.9Z" fill="#f5854f" fill-rule="evenodd"/>
<path d="M604.2 290.5L618.7 290.5L618.2 291.0L616.2 291.5L610.2 292.2L603.0 290.5L604.2 290.5ZM618.2 432.6L620.2 431.7L620.2 493.2L540.1 493.2L560.2 484.9L565.5 479.2L598.2 447.1L608.0 437.0L618.2 432.6Z" fill="#f27c4b" fill-rule="evenodd"/>
<path d="M606.2 290.5L616.2 290.5L610.2 291.4L606.2 290.5ZM620.2 432.7L620.2 493.2L546.3 493.2L560.2 486.9L570.2 476.7L598.5 449.0L608.2 438.6L610.6 437.0L620.2 432.7Z" fill="#ee7246" fill-rule="evenodd"/>
<path d="M610.2 290.5L610.9 290.5L609.9 290.5L610.2 290.5ZM618.2 434.6L620.2 433.7L620.2 493.2L551.9 493.2L558.2 490.0L562.2 487.2L571.9 477.1L600.2 449.6L608.2 440.8L610.2 438.9L618.2 434.6Z" fill="#eb6942" fill-rule="evenodd"/>
<path d="M620.2 434.8L620.2 493.2L556.3 493.2L560.2 490.7L564.2 487.2L572.2 479.0L601.0 451.1L610.2 441.0L612.7 439.0L620.2 434.8Z" fill="#e8603e" fill-rule="evenodd"/>
<path d="M620.2 436.0L620.2 493.2L559.4 493.2L564.2 489.1L600.2 454.0L612.2 441.4L615.2 439.0L620.2 436.0Z" fill="#e55a3a" fill-rule="evenodd"/>
<path d="M618.2 438.7L620.2 437.4L620.2 493.2L561.7 493.2L601.3 455.1L612.9 443.0L618.2 438.7Z" fill="#e25238" fill-rule="evenodd"/>
<path d="M620.2 438.9L620.2 493.2L563.6 493.2L603.3 455.1L615.3 443.0L620.2 438.9Z" fill="#e04a35" fill-rule="evenodd"/>
<path d="M620.2 440.8L620.2 493.2L565.4 493.2L620.2 440.8Z" fill="#dd4130" fill-rule="evenodd"/>
<path d="M620.2 442.8L620.2 493.2L567.2 493.2L620.2 442.8Z" fill="#d9392c" fill-rule="evenodd"/>
<path d="M620.2 444.9L620.2 493.2L569.0 493.2L620.2 444.9Z" fill="#d63027" fill-rule="evenodd"/>
<path d="M620.2 446.9L620.2 493.2L570.9 493.2L604.2 461.4L620.2 446.9Z" fill="#c92e27" fill-rule="evenodd"/>
<path d="M620.2 448.8L620.2 493.2L572.7 493.2L604.2 463.1L620.2 448.8Z" fill="#c22c26" fill-rule="evenodd"/>
<path d="M620.2 450.5L620.2 493.2L574.6 493.2L604.2 464.8L620.2 450.5Z" fill="#bc2a24" fill-rule="evenodd"/>
<path d="M620.2 452.2L620.2 493.2L576.3 493.2L603.6 467.1L620.2 452.2Z" fill="#b52823" fill-rule="evenodd"/>
<path d="M620.2 453.8L620.2 493.2L578.1 493.2L603.4 469.1L620.2 453.8Z" fill="#ae2622" fill-rule="evenodd"/>
<path d="M620.2 455.5L620.2 493.2L579.9 493.2L620.2 455.5Z" fill="#a92522" fill-rule="evenodd"/>
<path d="M620.2 457.3L620.2 493.2L581.8 493.2L620.2 457.3Z" fill="#a42422" fill-rule="evenodd"/>
<path d="M620.2 459.3L620.2 493.2L583.9 493.2L606.2 472.8L620.2 459.3Z" fill="#a02422" fill-rule="evenodd"/>
<path d="M620.2 461.7L620.2 493.2L586.3 493.2L608.2 473.6L620.2 461.7Z" fill="#9b2322" fill-rule="evenodd"/>
<path d="M620.2 464.4L620.2 493.2L589.1 493.2L606.2 478.8L614.2 471.0L620.2 464.4Z" fill="#962222" fill-rule="evenodd"/>
<path d="M620.2 468.0L620.2 493.2L592.5 493.2L600.8 487.2L608.2 481.1L614.2 475.2L620.2 468.0Z" fill="#912121" fill-rule="evenodd"/>
<path d="M408.3 481.9L438.3 477.1L447.4 473.1L449.0 437.0L449.3 435.0L478.3 418.4L483.7 410.9L499.2 386.8L500.3 386.3L516.0 382.8L558.2 374.3L560.2 373.2L594.2 347.6L610.2 335.0L611.5 334.7L612.6 332.6L611.1 332.6L610.2 333.3L609.0 332.6L560.2 327.0L516.2 324.3L496.3 321.9L473.3 308.6L452.4 290.5" fill="none" stroke="#3a3a3a" stroke-width="0.75" stroke-dasharray="1.1 0.9" stroke-opacity="0.85"/>
<path d="M620.2 325.2L558.2 318.6L520.2 311.6L516.2 310.4L510.3 309.7L508.3 309.0L498.3 307.3L468.0 290.5M408.3 490.9L438.3 486.0L471.8 473.1L487.1 437.0L488.3 435.7L498.3 430.9L500.3 430.2L558.2 422.0L564.2 420.4L565.9 418.9L620.2 358.6" fill="none" stroke="#3a3a3a" stroke-width="0.75" stroke-dasharray="1.1 0.9" stroke-opacity="0.85"/>
<path d="M620.2 317.1L558.2 310.4L510.3 301.6L500.3 298.5L483.5 290.5M445.9 493.2L495.5 473.1L499.9 467.1L510.3 457.2L534.2 436.3L558.2 431.5L590.2 418.1L597.7 408.9L620.2 385.6" fill="none" stroke="#3a3a3a" stroke-width="0.75" stroke-dasharray="1.1 0.9" stroke-opacity="0.85"/>
<path d="M620.2 308.9L558.2 302.3L510.3 292.6L503.0 290.5M472.0 493.2L510.3 477.8L558.2 448.9L560.0 447.0L568.2 436.1L569.5 435.0L612.2 418.5L620.2 412.5" fill="none" stroke="#3a3a3a" stroke-width="0.75" stroke-dasharray="1.1 0.9" stroke-opacity="0.85"/>
<path d="M620.2 298.3L560.2 295.9L558.2 295.7L537.0 290.5M503.1 493.2L510.3 488.4L558.2 466.0L559.6 465.1L590.2 435.2L620.2 424.7" fill="none" stroke="#3a3a3a" stroke-width="0.75" stroke-dasharray="1.1 0.9" stroke-opacity="0.85"/>
<path d="M619.5 290.5L618.2 291.8L610.2 292.6L601.4 290.5M620.2 292.5L620.2 292.4M537.0 493.2L558.2 484.8L560.2 483.2L608.2 436.1L620.2 431.3" fill="none" stroke="#3a3a3a" stroke-width="0.75" stroke-dasharray="1.1 0.9" stroke-opacity="0.85"/>
<path d="M566.4 493.2L620.2 441.9" fill="none" stroke="#3a3a3a" stroke-width="0.75" stroke-dasharray="1.1 0.9" stroke-opacity="0.85"/>
<path d="M581.1 493.2L620.2 456.6" fill="none" stroke="#3a3a3a" stroke-width="0.75" stroke-dasharray="1.1 0.9" stroke-opacity="0.85"/>
</g>
<path d="M49.3 292H260V495.3H49.3Z" fill="none" stroke="#000" stroke-width="1.7"/>
<line x1="47.3" y1="495.3" x2="49.3" y2="495.3" stroke="#000" stroke-width="1.3"/>
<line x1="45.3" y1="466.26" x2="49.3" y2="466.26" stroke="#000" stroke-width="1.3"/>
<text x="42.5" y="470.16" font-size="11.3" text-anchor="end">40</text>
<line x1="47.3" y1="437.21" x2="49.3" y2="437.21" stroke="#000" stroke-width="1.3"/>
<line x1="45.3" y1="408.17" x2="49.3" y2="408.17" stroke="#000" stroke-width="1.3"/>
<text x="42.5" y="412.07" font-size="11.3" text-anchor="end">60</text>
<line x1="47.3" y1="379.13" x2="49.3" y2="379.13" stroke="#000" stroke-width="1.3"/>
<line x1="45.3" y1="350.09" x2="49.3" y2="350.09" stroke="#000" stroke-width="1.3"/>
<text x="42.5" y="353.99" font-size="11.3" text-anchor="end">80</text>
<line x1="47.3" y1="321.04" x2="49.3" y2="321.04" stroke="#000" stroke-width="1.3"/>
<line x1="45.3" y1="292" x2="49.3" y2="292" stroke="#000" stroke-width="1.3"/>
<text x="42.5" y="295.9" font-size="11.3" text-anchor="end">100</text>
<line x1="49.3" y1="495.3" x2="49.3" y2="497.3" stroke="#000" stroke-width="1.3"/>
<line x1="79.4" y1="495.3" x2="79.4" y2="499.3" stroke="#000" stroke-width="1.3"/>
<text x="79.4" y="510.3" font-size="11.3" text-anchor="middle">100</text>
<line x1="109.5" y1="495.3" x2="109.5" y2="497.3" stroke="#000" stroke-width="1.3"/>
<line x1="139.6" y1="495.3" x2="139.6" y2="499.3" stroke="#000" stroke-width="1.3"/>
<text x="139.6" y="510.3" font-size="11.3" text-anchor="middle">200</text>
<line x1="169.7" y1="495.3" x2="169.7" y2="497.3" stroke="#000" stroke-width="1.3"/>
<line x1="199.8" y1="495.3" x2="199.8" y2="499.3" stroke="#000" stroke-width="1.3"/>
<text x="199.8" y="510.3" font-size="11.3" text-anchor="middle">300</text>
<line x1="229.9" y1="495.3" x2="229.9" y2="497.3" stroke="#000" stroke-width="1.3"/>
<line x1="260" y1="495.3" x2="260" y2="499.3" stroke="#000" stroke-width="1.3"/>
<text x="260" y="510.3" font-size="11.3" text-anchor="middle">400</text>
<path d="M408.3 290.5H620.2V493.2H408.3Z" fill="none" stroke="#000" stroke-width="1.7"/>
<line x1="406.3" y1="493.2" x2="408.3" y2="493.2" stroke="#000" stroke-width="1.3"/>
<line x1="404.3" y1="464.24" x2="408.3" y2="464.24" stroke="#000" stroke-width="1.3"/>
<text x="401.5" y="468.14" font-size="11.3" text-anchor="end">40</text>
<line x1="406.3" y1="435.29" x2="408.3" y2="435.29" stroke="#000" stroke-width="1.3"/>
<line x1="404.3" y1="406.33" x2="408.3" y2="406.33" stroke="#000" stroke-width="1.3"/>
<text x="401.5" y="410.23" font-size="11.3" text-anchor="end">60</text>
<line x1="406.3" y1="377.37" x2="408.3" y2="377.37" stroke="#000" stroke-width="1.3"/>
<line x1="404.3" y1="348.41" x2="408.3" y2="348.41" stroke="#000" stroke-width="1.3"/>
<text x="401.5" y="352.31" font-size="11.3" text-anchor="end">80</text>
<line x1="406.3" y1="319.46" x2="408.3" y2="319.46" stroke="#000" stroke-width="1.3"/>
<line x1="404.3" y1="290.5" x2="408.3" y2="290.5" stroke="#000" stroke-width="1.3"/>
<text x="401.5" y="294.4" font-size="11.3" text-anchor="end">100</text>
<line x1="408.3" y1="493.2" x2="408.3" y2="495.2" stroke="#000" stroke-width="1.3"/>
<line x1="438.57" y1="493.2" x2="438.57" y2="497.2" stroke="#000" stroke-width="1.3"/>
<text x="438.57" y="509.3" font-size="11.3" text-anchor="middle">100</text>
<line x1="468.84" y1="493.2" x2="468.84" y2="495.2" stroke="#000" stroke-width="1.3"/>
<line x1="499.11" y1="493.2" x2="499.11" y2="497.2" stroke="#000" stroke-width="1.3"/>
<text x="499.11" y="509.3" font-size="11.3" text-anchor="middle">200</text>
<line x1="529.39" y1="493.2" x2="529.39" y2="495.2" stroke="#000" stroke-width="1.3"/>
<line x1="559.66" y1="493.2" x2="559.66" y2="497.2" stroke="#000" stroke-width="1.3"/>
<text x="559.66" y="509.3" font-size="11.3" text-anchor="middle">300</text>
<line x1="589.93" y1="493.2" x2="589.93" y2="495.2" stroke="#000" stroke-width="1.3"/>
<line x1="620.2" y1="493.2" x2="620.2" y2="497.2" stroke="#000" stroke-width="1.3"/>
<text x="620.2" y="509.3" font-size="11.3" text-anchor="middle">400</text>
<rect x="278" y="291.8" width="17" height="203.7" fill="#2d4773"/>
<rect x="278" y="291.8" width="17" height="200.91" fill="#2e4a7a"/>
<rect x="278" y="291.8" width="17" height="198.12" fill="#304e80"/>
<rect x="278" y="291.8" width="17" height="195.33" fill="#315185"/>
<rect x="278" y="291.8" width="17" height="192.54" fill="#32548a"/>
<rect x="278" y="291.8" width="17" height="189.75" fill="#345890"/>
<rect x="278" y="291.8" width="17" height="186.96" fill="#365b95"/>
<rect x="278" y="291.8" width="17" height="184.17" fill="#395f9b"/>
<rect x="278" y="291.8" width="17" height="181.38" fill="#3b62a0"/>
<rect x="278" y="291.8" width="17" height="178.59" fill="#3d67a5"/>
<rect x="278" y="291.8" width="17" height="175.8" fill="#406dab"/>
<rect x="278" y="291.8" width="17" height="173.01" fill="#4272b0"/>
<rect x="278" y="291.8" width="17" height="170.22" fill="#4677b5"/>
<rect x="278" y="291.8" width="17" height="167.42" fill="#4a7cba"/>
<rect x="278" y="291.8" width="17" height="164.63" fill="#5183be"/>
<rect x="278" y="291.8" width="17" height="161.84" fill="#5889c2"/>
<rect x="278" y="291.8" width="17" height="159.05" fill="#5f90c6"/>
<rect x="278" y="291.8" width="17" height="156.26" fill="#6899ca"/>
<rect x="278" y="291.8" width="17" height="153.47" fill="#71a1ce"/>
<rect x="278" y="291.8" width="17" height="150.68" fill="#7aaad2"/>
<rect x="278" y="291.8" width="17" height="147.89" fill="#83b1d5"/>
<rect x="278" y="291.8" width="17" height="145.1" fill="#8cb8d8"/>
<rect x="278" y="291.8" width="17" height="142.31" fill="#96c0dc"/>
<rect x="278" y="291.8" width="17" height="139.52" fill="#a0c8e0"/>
<rect x="278" y="291.8" width="17" height="136.73" fill="#a8cde3"/>
<rect x="278" y="291.8" width="17" height="133.94" fill="#b0d3e5"/>
<rect x="278" y="291.8" width="17" height="131.15" fill="#b8d8e8"/>
<rect x="278" y="291.8" width="17" height="128.36" fill="#c0ddeb"/>
<rect x="278" y="291.8" width="17" height="125.57" fill="#c8e2ee"/>
<rect x="278" y="291.8" width="17" height="122.78" fill="#cfe7f1"/>
<rect x="278" y="291.8" width="17" height="119.99" fill="#d6ebf3"/>
<rect x="278" y="291.8" width="17" height="117.2" fill="#ddf0f6"/>
<rect x="278" y="291.8" width="17" height="114.41" fill="#e0f0f3"/>
<rect x="278" y="291.8" width="17" height="111.62" fill="#e2f0f0"/>
<rect x="278" y="291.8" width="17" height="108.83" fill="#e5eee4"/>
<rect x="278" y="291.8" width="17" height="106.04" fill="#e8ecd8"/>
<rect x="278" y="291.8" width="17" height="103.25" fill="#ece9c4"/>
<rect x="278" y="291.8" width="17" height="100.45" fill="#f0e6b0"/>
<rect x="278" y="291.8" width="17" height="97.66" fill="#f4e5a8"/>
<rect x="278" y="291.8" width="17" height="94.87" fill="#f8e4a0"/>
<rect x="278" y="291.8" width="17" height="92.08" fill="#fae295"/>
<rect x="278" y="291.8" width="17" height="89.29" fill="#fde08a"/>
<rect x="278" y="291.8" width="17" height="86.5" fill="#fdd27f"/>
<rect x="278" y="291.8" width="17" height="83.71" fill="#fcca79"/>
<rect x="278" y="291.8" width="17" height="80.92" fill="#fcc172"/>
<rect x="278" y="291.8" width="17" height="78.13" fill="#fbb96c"/>
<rect x="278" y="291.8" width="17" height="75.34" fill="#fab168"/>
<rect x="278" y="291.8" width="17" height="72.55" fill="#faa864"/>
<rect x="278" y="291.8" width="17" height="69.76" fill="#f9a060"/>
<rect x="278" y="291.8" width="17" height="66.97" fill="#f8975a"/>
<rect x="278" y="291.8" width="17" height="64.18" fill="#f68e55"/>
<rect x="278" y="291.8" width="17" height="61.39" fill="#f5854f"/>
<rect x="278" y="291.8" width="17" height="58.6" fill="#f27c4b"/>
<rect x="278" y="291.8" width="17" height="55.81" fill="#ee7246"/>
<rect x="278" y="291.8" width="17" height="53.02" fill="#eb6942"/>
<rect x="278" y="291.8" width="17" height="50.23" fill="#e8603e"/>
<rect x="278" y="291.8" width="17" height="47.44" fill="#e55a3a"/>
<rect x="278" y="291.8" width="17" height="44.65" fill="#e25238"/>
<rect x="278" y="291.8" width="17" height="41.86" fill="#e04a35"/>
<rect x="278" y="291.8" width="17" height="39.07" fill="#dd4130"/>
<rect x="278" y="291.8" width="17" height="36.28" fill="#d9392c"/>
<rect x="278" y="291.8" width="17" height="33.48" fill="#d63027"/>
<rect x="278" y="291.8" width="17" height="30.69" fill="#c92e27"/>
<rect x="278" y="291.8" width="17" height="27.9" fill="#c22c26"/>
<rect x="278" y="291.8" width="17" height="25.11" fill="#bc2a24"/>
<rect x="278" y="291.8" width="17" height="22.32" fill="#b52823"/>
<rect x="278" y="291.8" width="17" height="19.53" fill="#ae2622"/>
<rect x="278" y="291.8" width="17" height="16.74" fill="#a92522"/>
<rect x="278" y="291.8" width="17" height="13.95" fill="#a42422"/>
<rect x="278" y="291.8" width="17" height="11.16" fill="#a02422"/>
<rect x="278" y="291.8" width="17" height="8.37" fill="#9b2322"/>
<rect x="278" y="291.8" width="17" height="5.58" fill="#962222"/>
<rect x="278" y="291.8" width="17" height="2.79" fill="#912121"/>
<rect x="278" y="291.8" width="17" height="203.7" fill="none" stroke="#333" stroke-width="0.8"/>
<rect x="637.4" y="290.7" width="17.2" height="203.6" fill="#2d4773"/>
<rect x="637.4" y="290.7" width="17.2" height="200.81" fill="#2e4a7a"/>
<rect x="637.4" y="290.7" width="17.2" height="198.02" fill="#304e80"/>
<rect x="637.4" y="290.7" width="17.2" height="195.23" fill="#315185"/>
<rect x="637.4" y="290.7" width="17.2" height="192.44" fill="#32548a"/>
<rect x="637.4" y="290.7" width="17.2" height="189.65" fill="#345890"/>
<rect x="637.4" y="290.7" width="17.2" height="186.87" fill="#365b95"/>
<rect x="637.4" y="290.7" width="17.2" height="184.08" fill="#395f9b"/>
<rect x="637.4" y="290.7" width="17.2" height="181.29" fill="#3b62a0"/>
<rect x="637.4" y="290.7" width="17.2" height="178.5" fill="#3d67a5"/>
<rect x="637.4" y="290.7" width="17.2" height="175.71" fill="#406dab"/>
<rect x="637.4" y="290.7" width="17.2" height="172.92" fill="#4272b0"/>
<rect x="637.4" y="290.7" width="17.2" height="170.13" fill="#4677b5"/>
<rect x="637.4" y="290.7" width="17.2" height="167.34" fill="#4a7cba"/>
<rect x="637.4" y="290.7" width="17.2" height="164.55" fill="#5183be"/>
<rect x="637.4" y="290.7" width="17.2" height="161.76" fill="#5889c2"/>
<rect x="637.4" y="290.7" width="17.2" height="158.98" fill="#5f90c6"/>
<rect x="637.4" y="290.7" width="17.2" height="156.19" fill="#6899ca"/>
<rect x="637.4" y="290.7" width="17.2" height="153.4" fill="#71a1ce"/>
<rect x="637.4" y="290.7" width="17.2" height="150.61" fill="#7aaad2"/>
<rect x="637.4" y="290.7" width="17.2" height="147.82" fill="#83b1d5"/>
<rect x="637.4" y="290.7" width="17.2" height="145.03" fill="#8cb8d8"/>
<rect x="637.4" y="290.7" width="17.2" height="142.24" fill="#96c0dc"/>
<rect x="637.4" y="290.7" width="17.2" height="139.45" fill="#a0c8e0"/>
<rect x="637.4" y="290.7" width="17.2" height="136.66" fill="#a8cde3"/>
<rect x="637.4" y="290.7" width="17.2" height="133.87" fill="#b0d3e5"/>
<rect x="637.4" y="290.7" width="17.2" height="131.08" fill="#b8d8e8"/>
<rect x="637.4" y="290.7" width="17.2" height="128.3" fill="#c0ddeb"/>
<rect x="637.4" y="290.7" width="17.2" height="125.51" fill="#c8e2ee"/>
<rect x="637.4" y="290.7" width="17.2" height="122.72" fill="#cfe7f1"/>
<rect x="637.4" y="290.7" width="17.2" height="119.93" fill="#d6ebf3"/>
<rect x="637.4" y="290.7" width="17.2" height="117.14" fill="#ddf0f6"/>
<rect x="637.4" y="290.7" width="17.2" height="114.35" fill="#e0f0f3"/>
<rect x="637.4" y="290.7" width="17.2" height="111.56" fill="#e2f0f0"/>
<rect x="637.4" y="290.7" width="17.2" height="108.77" fill="#e5eee4"/>
<rect x="637.4" y="290.7" width="17.2" height="105.98" fill="#e8ecd8"/>
<rect x="637.4" y="290.7" width="17.2" height="103.19" fill="#ece9c4"/>
<rect x="637.4" y="290.7" width="17.2" height="100.41" fill="#f0e6b0"/>
<rect x="637.4" y="290.7" width="17.2" height="97.62" fill="#f4e5a8"/>
<rect x="637.4" y="290.7" width="17.2" height="94.83" fill="#f8e4a0"/>
<rect x="637.4" y="290.7" width="17.2" height="92.04" fill="#fae295"/>
<rect x="637.4" y="290.7" width="17.2" height="89.25" fill="#fde08a"/>
<rect x="637.4" y="290.7" width="17.2" height="86.46" fill="#fdd27f"/>
<rect x="637.4" y="290.7" width="17.2" height="83.67" fill="#fcca79"/>
<rect x="637.4" y="290.7" width="17.2" height="80.88" fill="#fcc172"/>
<rect x="637.4" y="290.7" width="17.2" height="78.09" fill="#fbb96c"/>
<rect x="637.4" y="290.7" width="17.2" height="75.3" fill="#fab168"/>
<rect x="637.4" y="290.7" width="17.2" height="72.52" fill="#faa864"/>
<rect x="637.4" y="290.7" width="17.2" height="69.73" fill="#f9a060"/>
<rect x="637.4" y="290.7" width="17.2" height="66.94" fill="#f8975a"/>
<rect x="637.4" y="290.7" width="17.2" height="64.15" fill="#f68e55"/>
<rect x="637.4" y="290.7" width="17.2" height="61.36" fill="#f5854f"/>
<rect x="637.4" y="290.7" width="17.2" height="58.57" fill="#f27c4b"/>
<rect x="637.4" y="290.7" width="17.2" height="55.78" fill="#ee7246"/>
<rect x="637.4" y="290.7" width="17.2" height="52.99" fill="#eb6942"/>
<rect x="637.4" y="290.7" width="17.2" height="50.2" fill="#e8603e"/>
<rect x="637.4" y="290.7" width="17.2" height="47.41" fill="#e55a3a"/>
<rect x="637.4" y="290.7" width="17.2" height="44.62" fill="#e25238"/>
<rect x="637.4" y="290.7" width="17.2" height="41.84" fill="#e04a35"/>
<rect x="637.4" y="290.7" width="17.2" height="39.05" fill="#dd4130"/>
<rect x="637.4" y="290.7" width="17.2" height="36.26" fill="#d9392c"/>
<rect x="637.4" y="290.7" width="17.2" height="33.47" fill="#d63027"/>
<rect x="637.4" y="290.7" width="17.2" height="30.68" fill="#c92e27"/>
<rect x="637.4" y="290.7" width="17.2" height="27.89" fill="#c22c26"/>
<rect x="637.4" y="290.7" width="17.2" height="25.1" fill="#bc2a24"/>
<rect x="637.4" y="290.7" width="17.2" height="22.31" fill="#b52823"/>
<rect x="637.4" y="290.7" width="17.2" height="19.52" fill="#ae2622"/>
<rect x="637.4" y="290.7" width="17.2" height="16.73" fill="#a92522"/>
<rect x="637.4" y="290.7" width="17.2" height="13.95" fill="#a42422"/>
<rect x="637.4" y="290.7" width="17.2" height="11.16" fill="#a02422"/>
<rect x="637.4" y="290.7" width="17.2" height="8.37" fill="#9b2322"/>
<rect x="637.4" y="290.7" width="17.2" height="5.58" fill="#962222"/>
<rect x="637.4" y="290.7" width="17.2" height="2.79" fill="#912121"/>
<rect x="637.4" y="290.7" width="17.2" height="203.6" fill="none" stroke="#333" stroke-width="0.8"/>
<line x1="295" y1="491.5" x2="299" y2="491.5" stroke="#333" stroke-width="1.2"/>
<text x="302.6" y="495.4" font-size="11.3">30</text>
<line x1="295" y1="463.5" x2="299" y2="463.5" stroke="#333" stroke-width="1.2"/>
<text x="302.6" y="467.4" font-size="11.3">40</text>
<line x1="295" y1="435.5" x2="299" y2="435.5" stroke="#333" stroke-width="1.2"/>
<text x="302.6" y="439.4" font-size="11.3">50</text>
<line x1="295" y1="407.5" x2="299" y2="407.5" stroke="#333" stroke-width="1.2"/>
<text x="302.6" y="411.4" font-size="11.3">60</text>
<line x1="295" y1="379.5" x2="299" y2="379.5" stroke="#333" stroke-width="1.2"/>
<text x="302.6" y="383.4" font-size="11.3">70</text>
<line x1="295" y1="351.5" x2="299" y2="351.5" stroke="#333" stroke-width="1.2"/>
<text x="302.6" y="355.4" font-size="11.3">80</text>
<line x1="295" y1="323.5" x2="299" y2="323.5" stroke="#333" stroke-width="1.2"/>
<text x="302.6" y="327.4" font-size="11.3">90</text>
<line x1="295" y1="295.5" x2="299" y2="295.5" stroke="#333" stroke-width="1.2"/>
<text x="302.6" y="299.4" font-size="11.3">100</text>
<line x1="654.6" y1="490.6" x2="658.6" y2="490.6" stroke="#333" stroke-width="1.2"/>
<text x="662" y="494.5" font-size="11.3">0</text>
<line x1="654.6" y1="457.95" x2="658.6" y2="457.95" stroke="#333" stroke-width="1.2"/>
<text x="662" y="461.85" font-size="11.3">10</text>
<line x1="654.6" y1="425.3" x2="658.6" y2="425.3" stroke="#333" stroke-width="1.2"/>
<text x="662" y="429.2" font-size="11.3">20</text>
<line x1="654.6" y1="392.65" x2="658.6" y2="392.65" stroke="#333" stroke-width="1.2"/>
<text x="662" y="396.55" font-size="11.3">30</text>
<line x1="654.6" y1="360" x2="658.6" y2="360" stroke="#333" stroke-width="1.2"/>
<text x="662" y="363.9" font-size="11.3">40</text>
<line x1="654.6" y1="327.35" x2="658.6" y2="327.35" stroke="#333" stroke-width="1.2"/>
<text x="662" y="331.25" font-size="11.3">50</text>
<line x1="654.6" y1="294.7" x2="658.6" y2="294.7" stroke="#333" stroke-width="1.2"/>
<text x="662" y="298.6" font-size="11.3">60</text>
<text x="248.4" y="281.7" font-size="12.3">FE</text>
<text x="264.7" y="283.6" font-size="8.8">ethylene</text>
<text x="304.1" y="282" font-size="13">(%)</text>
<text x="605" y="280.3" font-size="12.3">FE</text>
<text x="621.5" y="283" font-size="8.8">hydrogen</text>
<text x="665.2" y="280.8" font-size="13">(%)</text>
<text x="17.2" y="392.7" font-size="13" text-anchor="middle" transform="rotate(-90 17.2 392.7)">Cu composition (%)</text>
<text x="376.2" y="392.5" font-size="13" text-anchor="middle" transform="rotate(-90 376.2 392.5)">Cu composition (%)</text>
<text x="119.5" y="532.2" font-size="13.3"><tspan font-style="italic">J</tspan> (mA cm<tspan font-size="8.51" dy="-4.79">-2</tspan><tspan dy="4.79">)</tspan></text>
<text x="479.4" y="532.2" font-size="13.3"><tspan font-style="italic">J</tspan> (mA cm<tspan font-size="8.51" dy="-4.79">-2</tspan><tspan dy="4.79">)</tspan></text>
<text x="-0.6" y="299.5" font-size="29" font-weight="normal">c</text>
<text x="357.4" y="299" font-size="29" font-weight="normal">d</text>
</svg>
</body></html>
